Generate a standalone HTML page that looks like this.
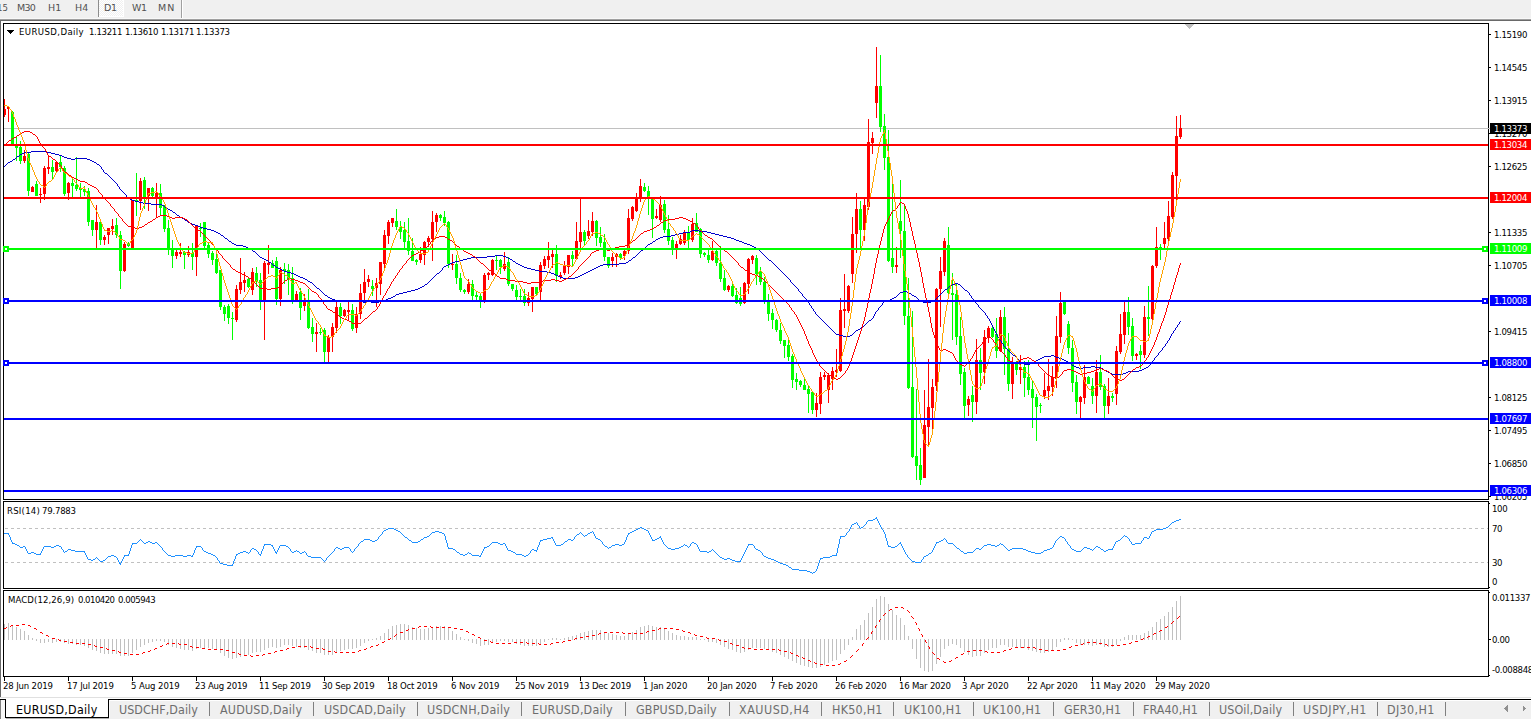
<!DOCTYPE html><html><head><meta charset="utf-8"><title>EURUSD,Daily</title><style>
html,body{margin:0;padding:0;}
body{width:1531px;height:719px;background:#fff;position:relative;overflow:hidden;font-family:"DejaVu Sans Condensed", "Liberation Sans", sans-serif;}
.t{position:absolute;white-space:nowrap;line-height:1;color:#000;}
#tb{position:absolute;left:0;top:0;width:1531px;height:19px;background:#f0f0f0;}
#tbl{position:absolute;left:0;top:19px;width:1531px;height:1px;background:#a0a0a0;}
#tbl2{position:absolute;left:0;top:20px;width:1531px;height:1px;background:#696969;}
.tbt{position:absolute;top:3px;font-family:"DejaVu Sans","Liberation Sans",sans-serif;font-size:9.5px;color:#505050;white-space:nowrap;line-height:1;}
.tab{position:absolute;top:704px;font-size:12.4px;color:#6d6d6d;white-space:nowrap;line-height:1;}
</style></head><body>
<div id="tb"></div><div id="tbl"></div><div id="tbl2"></div>
<div style="position:absolute;left:99px;top:0;width:24px;height:16px;background:repeating-conic-gradient(#ffffff 0% 25%, #f0f0f0 0% 50%) 0 0/2px 2px;"></div>
<div style="position:absolute;left:98px;top:0;width:1px;height:17px;background:#8c8c8c;"></div>
<div style="position:absolute;left:99px;top:16px;width:25px;height:1px;background:#fff;"></div>
<div style="position:absolute;left:123px;top:0;width:1px;height:17px;background:#fff;"></div>
<div style="position:absolute;left:181px;top:0;width:1px;height:19px;background:#a0a0a0;"></div>
<div style="position:absolute;left:182px;top:0;width:1px;height:19px;background:#fff;"></div>
<div class="tbt" style="left:-3px;font-family:'DejaVu Sans Condensed','Liberation Sans',sans-serif">15</div>
<div class="tbt" style="left:17.0px;letter-spacing:-0.69px">M30</div>
<div class="tbt" style="left:48.0px;letter-spacing:0.22px">H1</div>
<div class="tbt" style="left:75.0px;letter-spacing:0.08px">H4</div>
<div class="tbt" style="left:104.0px;letter-spacing:-0.34px">D1</div>
<div class="tbt" style="left:132.0px;letter-spacing:-0.48px">W1</div>
<div class="tbt" style="left:158.0px;letter-spacing:1.06px">MN</div>
<div style="position:absolute;left:0;top:20px;width:1px;height:677px;background:#696969;"></div>
<div style="position:absolute;left:0;top:18px;width:1531px;height:1px;background:#f8f8f8;"></div>
<svg width="1531" height="719" viewBox="0 0 1531 719" style="position:absolute;left:0;top:0" shape-rendering="crispEdges">
<rect x="3.5" y="23.5" width="1485" height="476" fill="none" stroke="#000" stroke-width="1"/>
<rect x="3.5" y="501.5" width="1485" height="87" fill="none" stroke="#000" stroke-width="1"/>
<rect x="3.5" y="590.5" width="1485" height="86" fill="none" stroke="#000" stroke-width="1"/>
<line x1="5" y1="528.5" x2="1488" y2="528.5" stroke="#c0c0c0" stroke-width="1" stroke-dasharray="3,3"/>
<line x1="5" y1="562.5" x2="1488" y2="562.5" stroke="#c0c0c0" stroke-width="1" stroke-dasharray="3,3"/>
<rect x="4" y="677" width="1" height="4" fill="#000"/>
<rect x="68" y="677" width="1" height="4" fill="#000"/>
<rect x="132" y="677" width="1" height="4" fill="#000"/>
<rect x="196" y="677" width="1" height="4" fill="#000"/>
<rect x="260" y="677" width="1" height="4" fill="#000"/>
<rect x="324" y="677" width="1" height="4" fill="#000"/>
<rect x="388" y="677" width="1" height="4" fill="#000"/>
<rect x="452" y="677" width="1" height="4" fill="#000"/>
<rect x="516" y="677" width="1" height="4" fill="#000"/>
<rect x="580" y="677" width="1" height="4" fill="#000"/>
<rect x="644" y="677" width="1" height="4" fill="#000"/>
<rect x="708" y="677" width="1" height="4" fill="#000"/>
<rect x="772" y="677" width="1" height="4" fill="#000"/>
<rect x="836" y="677" width="1" height="4" fill="#000"/>
<rect x="900" y="677" width="1" height="4" fill="#000"/>
<rect x="964" y="677" width="1" height="4" fill="#000"/>
<rect x="1028" y="677" width="1" height="4" fill="#000"/>
<rect x="1092" y="677" width="1" height="4" fill="#000"/>
<rect x="1156" y="677" width="1" height="4" fill="#000"/>
<rect x="1489" y="34" width="2" height="1" fill="#000"/>
<rect x="1489" y="67" width="2" height="1" fill="#000"/>
<rect x="1489" y="100" width="2" height="1" fill="#000"/>
<rect x="1489" y="133" width="2" height="1" fill="#000"/>
<rect x="1489" y="166" width="2" height="1" fill="#000"/>
<rect x="1489" y="232" width="2" height="1" fill="#000"/>
<rect x="1489" y="265" width="2" height="1" fill="#000"/>
<rect x="1489" y="331" width="2" height="1" fill="#000"/>
<rect x="1489" y="397" width="2" height="1" fill="#000"/>
<rect x="1489" y="430" width="2" height="1" fill="#000"/>
<rect x="1489" y="463" width="2" height="1" fill="#000"/>
<rect x="1489" y="496" width="2" height="1" fill="#000"/>
<rect x="1489" y="503" width="1" height="1" fill="#000"/>
<rect x="1489" y="587" width="1" height="1" fill="#000"/>
<rect x="1489" y="592" width="1" height="1" fill="#000"/>
<rect x="1489" y="675" width="1" height="1" fill="#000"/>
<rect x="1489" y="639" width="2" height="1" fill="#000"/>
<rect x="4" y="128" width="1486" height="1" fill="#c0c0c0"/>
<rect x="4" y="99" width="1" height="18" fill="#ff0000"/>
<rect x="4" y="109" width="2" height="6" fill="#ff0000"/>
<rect x="8" y="106" width="1" height="16" fill="#ff0000"/>
<rect x="7" y="107" width="3" height="2" fill="#ff0000"/>
<rect x="12" y="111" width="1" height="33" fill="#00ff00"/>
<rect x="11" y="112" width="3" height="32" fill="#00ff00"/>
<rect x="16" y="137" width="1" height="24" fill="#00ff00"/>
<rect x="15" y="146" width="3" height="2" fill="#00ff00"/>
<rect x="20" y="141" width="1" height="23" fill="#00ff00"/>
<rect x="19" y="147" width="3" height="14" fill="#00ff00"/>
<rect x="24" y="150" width="1" height="13" fill="#ff0000"/>
<rect x="23" y="156" width="3" height="5" fill="#ff0000"/>
<rect x="28" y="153" width="1" height="43" fill="#00ff00"/>
<rect x="27" y="154" width="3" height="37" fill="#00ff00"/>
<rect x="32" y="186" width="1" height="6" fill="#ff0000"/>
<rect x="31" y="187" width="3" height="5" fill="#ff0000"/>
<rect x="36" y="181" width="1" height="15" fill="#00ff00"/>
<rect x="35" y="184" width="3" height="12" fill="#00ff00"/>
<rect x="40" y="188" width="1" height="15" fill="#ff0000"/>
<rect x="39" y="194" width="3" height="1" fill="#ff0000"/>
<rect x="44" y="166" width="1" height="34" fill="#ff0000"/>
<rect x="43" y="168" width="3" height="26" fill="#ff0000"/>
<rect x="48" y="155" width="1" height="19" fill="#ff0000"/>
<rect x="47" y="167" width="3" height="2" fill="#ff0000"/>
<rect x="52" y="160" width="1" height="19" fill="#00ff00"/>
<rect x="51" y="167" width="3" height="5" fill="#00ff00"/>
<rect x="56" y="161" width="1" height="11" fill="#ff0000"/>
<rect x="55" y="162" width="3" height="9" fill="#ff0000"/>
<rect x="60" y="156" width="1" height="16" fill="#00ff00"/>
<rect x="59" y="162" width="3" height="5" fill="#00ff00"/>
<rect x="64" y="166" width="1" height="30" fill="#00ff00"/>
<rect x="63" y="168" width="3" height="26" fill="#00ff00"/>
<rect x="68" y="182" width="1" height="18" fill="#ff0000"/>
<rect x="67" y="183" width="3" height="10" fill="#ff0000"/>
<rect x="72" y="178" width="1" height="19" fill="#00ff00"/>
<rect x="71" y="183" width="3" height="3" fill="#00ff00"/>
<rect x="76" y="157" width="1" height="34" fill="#00ff00"/>
<rect x="75" y="185" width="3" height="4" fill="#00ff00"/>
<rect x="80" y="183" width="1" height="14" fill="#00ff00"/>
<rect x="79" y="188" width="3" height="2" fill="#00ff00"/>
<rect x="84" y="186" width="1" height="10" fill="#00ff00"/>
<rect x="83" y="189" width="3" height="3" fill="#00ff00"/>
<rect x="88" y="188" width="1" height="38" fill="#00ff00"/>
<rect x="87" y="191" width="3" height="31" fill="#00ff00"/>
<rect x="92" y="220" width="1" height="16" fill="#00ff00"/>
<rect x="91" y="220" width="3" height="10" fill="#00ff00"/>
<rect x="96" y="205" width="1" height="43" fill="#ff0000"/>
<rect x="95" y="222" width="3" height="8" fill="#ff0000"/>
<rect x="100" y="222" width="1" height="23" fill="#00ff00"/>
<rect x="99" y="222" width="3" height="18" fill="#00ff00"/>
<rect x="104" y="235" width="1" height="10" fill="#ff0000"/>
<rect x="103" y="237" width="3" height="3" fill="#ff0000"/>
<rect x="108" y="228" width="1" height="16" fill="#ff0000"/>
<rect x="107" y="228" width="3" height="7" fill="#ff0000"/>
<rect x="112" y="219" width="1" height="16" fill="#ff0000"/>
<rect x="111" y="226" width="3" height="3" fill="#ff0000"/>
<rect x="116" y="218" width="1" height="20" fill="#00ff00"/>
<rect x="115" y="225" width="3" height="10" fill="#00ff00"/>
<rect x="120" y="231" width="1" height="58" fill="#00ff00"/>
<rect x="119" y="235" width="3" height="36" fill="#00ff00"/>
<rect x="124" y="242" width="1" height="30" fill="#ff0000"/>
<rect x="123" y="244" width="3" height="27" fill="#ff0000"/>
<rect x="128" y="242" width="1" height="5" fill="#00ff00"/>
<rect x="127" y="244" width="3" height="2" fill="#00ff00"/>
<rect x="132" y="200" width="1" height="48" fill="#ff0000"/>
<rect x="131" y="200" width="3" height="48" fill="#ff0000"/>
<rect x="136" y="173" width="1" height="43" fill="#00ff00"/>
<rect x="135" y="200" width="3" height="1" fill="#00ff00"/>
<rect x="140" y="178" width="1" height="32" fill="#ff0000"/>
<rect x="139" y="181" width="3" height="20" fill="#ff0000"/>
<rect x="144" y="177" width="1" height="32" fill="#00ff00"/>
<rect x="143" y="180" width="3" height="17" fill="#00ff00"/>
<rect x="148" y="188" width="1" height="23" fill="#ff0000"/>
<rect x="147" y="188" width="3" height="8" fill="#ff0000"/>
<rect x="152" y="187" width="1" height="10" fill="#00ff00"/>
<rect x="151" y="188" width="3" height="8" fill="#00ff00"/>
<rect x="156" y="183" width="1" height="35" fill="#ff0000"/>
<rect x="155" y="193" width="3" height="5" fill="#ff0000"/>
<rect x="160" y="184" width="1" height="31" fill="#00ff00"/>
<rect x="159" y="193" width="3" height="15" fill="#00ff00"/>
<rect x="164" y="205" width="1" height="27" fill="#00ff00"/>
<rect x="163" y="206" width="3" height="23" fill="#00ff00"/>
<rect x="168" y="220" width="1" height="35" fill="#00ff00"/>
<rect x="167" y="228" width="3" height="20" fill="#00ff00"/>
<rect x="172" y="240" width="1" height="28" fill="#00ff00"/>
<rect x="171" y="250" width="3" height="6" fill="#00ff00"/>
<rect x="176" y="250" width="1" height="9" fill="#ff0000"/>
<rect x="175" y="252" width="3" height="4" fill="#ff0000"/>
<rect x="180" y="243" width="1" height="14" fill="#ff0000"/>
<rect x="179" y="252" width="3" height="2" fill="#ff0000"/>
<rect x="184" y="251" width="1" height="18" fill="#00ff00"/>
<rect x="183" y="252" width="3" height="3" fill="#00ff00"/>
<rect x="188" y="246" width="1" height="11" fill="#ff0000"/>
<rect x="187" y="252" width="3" height="3" fill="#ff0000"/>
<rect x="192" y="243" width="1" height="27" fill="#00ff00"/>
<rect x="191" y="253" width="3" height="4" fill="#00ff00"/>
<rect x="196" y="225" width="1" height="51" fill="#ff0000"/>
<rect x="195" y="226" width="3" height="31" fill="#ff0000"/>
<rect x="200" y="223" width="1" height="14" fill="#00ff00"/>
<rect x="199" y="228" width="3" height="1" fill="#00ff00"/>
<rect x="204" y="222" width="1" height="26" fill="#00ff00"/>
<rect x="203" y="222" width="3" height="24" fill="#00ff00"/>
<rect x="208" y="242" width="1" height="16" fill="#00ff00"/>
<rect x="207" y="245" width="3" height="9" fill="#00ff00"/>
<rect x="212" y="251" width="1" height="14" fill="#00ff00"/>
<rect x="211" y="253" width="3" height="7" fill="#00ff00"/>
<rect x="216" y="254" width="1" height="20" fill="#00ff00"/>
<rect x="215" y="259" width="3" height="14" fill="#00ff00"/>
<rect x="220" y="270" width="1" height="40" fill="#00ff00"/>
<rect x="219" y="270" width="3" height="37" fill="#00ff00"/>
<rect x="224" y="305" width="1" height="16" fill="#00ff00"/>
<rect x="223" y="307" width="3" height="7" fill="#00ff00"/>
<rect x="228" y="304" width="1" height="20" fill="#00ff00"/>
<rect x="227" y="306" width="3" height="12" fill="#00ff00"/>
<rect x="232" y="312" width="1" height="28" fill="#00ff00"/>
<rect x="231" y="318" width="3" height="1" fill="#00ff00"/>
<rect x="236" y="285" width="1" height="37" fill="#ff0000"/>
<rect x="235" y="289" width="3" height="31" fill="#ff0000"/>
<rect x="240" y="258" width="1" height="36" fill="#ff0000"/>
<rect x="239" y="282" width="3" height="8" fill="#ff0000"/>
<rect x="244" y="272" width="1" height="20" fill="#ff0000"/>
<rect x="243" y="280" width="3" height="3" fill="#ff0000"/>
<rect x="248" y="278" width="1" height="10" fill="#00ff00"/>
<rect x="247" y="279" width="3" height="8" fill="#00ff00"/>
<rect x="252" y="268" width="1" height="27" fill="#ff0000"/>
<rect x="251" y="272" width="3" height="18" fill="#ff0000"/>
<rect x="256" y="267" width="1" height="20" fill="#00ff00"/>
<rect x="255" y="273" width="3" height="9" fill="#00ff00"/>
<rect x="260" y="273" width="1" height="37" fill="#00ff00"/>
<rect x="259" y="280" width="3" height="20" fill="#00ff00"/>
<rect x="264" y="261" width="1" height="79" fill="#ff0000"/>
<rect x="263" y="263" width="3" height="37" fill="#ff0000"/>
<rect x="268" y="245" width="1" height="29" fill="#ff0000"/>
<rect x="267" y="263" width="3" height="2" fill="#ff0000"/>
<rect x="272" y="260" width="1" height="8" fill="#00ff00"/>
<rect x="271" y="263" width="3" height="5" fill="#00ff00"/>
<rect x="276" y="257" width="1" height="48" fill="#00ff00"/>
<rect x="275" y="261" width="3" height="38" fill="#00ff00"/>
<rect x="280" y="267" width="1" height="39" fill="#ff0000"/>
<rect x="279" y="270" width="3" height="29" fill="#ff0000"/>
<rect x="284" y="263" width="1" height="21" fill="#00ff00"/>
<rect x="283" y="269" width="3" height="2" fill="#00ff00"/>
<rect x="288" y="264" width="1" height="31" fill="#00ff00"/>
<rect x="287" y="270" width="3" height="9" fill="#00ff00"/>
<rect x="292" y="267" width="1" height="37" fill="#00ff00"/>
<rect x="291" y="278" width="3" height="22" fill="#00ff00"/>
<rect x="296" y="291" width="1" height="10" fill="#ff0000"/>
<rect x="295" y="294" width="3" height="6" fill="#ff0000"/>
<rect x="300" y="288" width="1" height="32" fill="#00ff00"/>
<rect x="299" y="292" width="3" height="16" fill="#00ff00"/>
<rect x="304" y="294" width="1" height="17" fill="#ff0000"/>
<rect x="303" y="300" width="3" height="6" fill="#ff0000"/>
<rect x="308" y="289" width="1" height="40" fill="#00ff00"/>
<rect x="307" y="302" width="3" height="26" fill="#00ff00"/>
<rect x="312" y="318" width="1" height="24" fill="#00ff00"/>
<rect x="311" y="327" width="3" height="7" fill="#00ff00"/>
<rect x="316" y="323" width="1" height="29" fill="#ff0000"/>
<rect x="315" y="332" width="3" height="2" fill="#ff0000"/>
<rect x="320" y="328" width="1" height="7" fill="#00ff00"/>
<rect x="319" y="332" width="3" height="1" fill="#00ff00"/>
<rect x="324" y="328" width="1" height="34" fill="#00ff00"/>
<rect x="323" y="330" width="3" height="22" fill="#00ff00"/>
<rect x="328" y="335" width="1" height="29" fill="#ff0000"/>
<rect x="327" y="337" width="3" height="15" fill="#ff0000"/>
<rect x="332" y="323" width="1" height="29" fill="#ff0000"/>
<rect x="331" y="327" width="3" height="10" fill="#ff0000"/>
<rect x="336" y="302" width="1" height="31" fill="#ff0000"/>
<rect x="335" y="307" width="3" height="21" fill="#ff0000"/>
<rect x="340" y="303" width="1" height="21" fill="#00ff00"/>
<rect x="339" y="307" width="3" height="9" fill="#00ff00"/>
<rect x="344" y="309" width="1" height="8" fill="#ff0000"/>
<rect x="343" y="310" width="3" height="6" fill="#ff0000"/>
<rect x="348" y="302" width="1" height="19" fill="#ff0000"/>
<rect x="347" y="310" width="3" height="2" fill="#ff0000"/>
<rect x="352" y="304" width="1" height="27" fill="#00ff00"/>
<rect x="351" y="310" width="3" height="19" fill="#00ff00"/>
<rect x="356" y="307" width="1" height="26" fill="#ff0000"/>
<rect x="355" y="314" width="3" height="14" fill="#ff0000"/>
<rect x="360" y="284" width="1" height="35" fill="#ff0000"/>
<rect x="359" y="293" width="3" height="21" fill="#ff0000"/>
<rect x="364" y="269" width="1" height="32" fill="#ff0000"/>
<rect x="363" y="282" width="3" height="11" fill="#ff0000"/>
<rect x="368" y="275" width="1" height="12" fill="#ff0000"/>
<rect x="367" y="279" width="3" height="3" fill="#ff0000"/>
<rect x="372" y="280" width="1" height="16" fill="#00ff00"/>
<rect x="371" y="286" width="3" height="3" fill="#00ff00"/>
<rect x="376" y="278" width="1" height="29" fill="#ff0000"/>
<rect x="375" y="283" width="3" height="5" fill="#ff0000"/>
<rect x="380" y="262" width="1" height="33" fill="#ff0000"/>
<rect x="379" y="262" width="3" height="22" fill="#ff0000"/>
<rect x="384" y="230" width="1" height="39" fill="#ff0000"/>
<rect x="383" y="235" width="3" height="29" fill="#ff0000"/>
<rect x="388" y="220" width="1" height="24" fill="#ff0000"/>
<rect x="387" y="222" width="3" height="14" fill="#ff0000"/>
<rect x="392" y="218" width="1" height="9" fill="#ff0000"/>
<rect x="391" y="218" width="3" height="5" fill="#ff0000"/>
<rect x="396" y="209" width="1" height="21" fill="#00ff00"/>
<rect x="395" y="221" width="3" height="6" fill="#00ff00"/>
<rect x="400" y="221" width="1" height="18" fill="#00ff00"/>
<rect x="399" y="227" width="3" height="5" fill="#00ff00"/>
<rect x="404" y="222" width="1" height="26" fill="#00ff00"/>
<rect x="403" y="230" width="3" height="12" fill="#00ff00"/>
<rect x="408" y="218" width="1" height="37" fill="#00ff00"/>
<rect x="407" y="241" width="3" height="10" fill="#00ff00"/>
<rect x="412" y="238" width="1" height="23" fill="#00ff00"/>
<rect x="411" y="251" width="3" height="10" fill="#00ff00"/>
<rect x="416" y="259" width="1" height="6" fill="#00ff00"/>
<rect x="415" y="260" width="3" height="2" fill="#00ff00"/>
<rect x="420" y="247" width="1" height="16" fill="#ff0000"/>
<rect x="419" y="254" width="3" height="6" fill="#ff0000"/>
<rect x="424" y="241" width="1" height="24" fill="#ff0000"/>
<rect x="423" y="242" width="3" height="13" fill="#ff0000"/>
<rect x="428" y="236" width="1" height="11" fill="#ff0000"/>
<rect x="427" y="238" width="3" height="4" fill="#ff0000"/>
<rect x="432" y="211" width="1" height="50" fill="#ff0000"/>
<rect x="431" y="222" width="3" height="17" fill="#ff0000"/>
<rect x="436" y="213" width="1" height="19" fill="#ff0000"/>
<rect x="435" y="215" width="3" height="7" fill="#ff0000"/>
<rect x="440" y="214" width="1" height="7" fill="#00ff00"/>
<rect x="439" y="215" width="3" height="3" fill="#00ff00"/>
<rect x="444" y="211" width="1" height="15" fill="#00ff00"/>
<rect x="443" y="217" width="3" height="6" fill="#00ff00"/>
<rect x="448" y="221" width="1" height="47" fill="#00ff00"/>
<rect x="447" y="222" width="3" height="42" fill="#00ff00"/>
<rect x="452" y="254" width="1" height="16" fill="#ff0000"/>
<rect x="451" y="264" width="3" height="1" fill="#ff0000"/>
<rect x="456" y="255" width="1" height="29" fill="#00ff00"/>
<rect x="455" y="264" width="3" height="14" fill="#00ff00"/>
<rect x="460" y="273" width="1" height="19" fill="#00ff00"/>
<rect x="459" y="278" width="3" height="12" fill="#00ff00"/>
<rect x="464" y="289" width="1" height="5" fill="#00ff00"/>
<rect x="463" y="290" width="3" height="2" fill="#00ff00"/>
<rect x="468" y="279" width="1" height="15" fill="#ff0000"/>
<rect x="467" y="284" width="3" height="8" fill="#ff0000"/>
<rect x="472" y="280" width="1" height="20" fill="#00ff00"/>
<rect x="471" y="284" width="3" height="12" fill="#00ff00"/>
<rect x="476" y="292" width="1" height="10" fill="#00ff00"/>
<rect x="475" y="295" width="3" height="2" fill="#00ff00"/>
<rect x="480" y="294" width="1" height="14" fill="#00ff00"/>
<rect x="479" y="296" width="3" height="5" fill="#00ff00"/>
<rect x="484" y="273" width="1" height="30" fill="#ff0000"/>
<rect x="483" y="275" width="3" height="25" fill="#ff0000"/>
<rect x="488" y="272" width="1" height="8" fill="#ff0000"/>
<rect x="487" y="273" width="3" height="2" fill="#ff0000"/>
<rect x="492" y="259" width="1" height="17" fill="#ff0000"/>
<rect x="491" y="260" width="3" height="15" fill="#ff0000"/>
<rect x="496" y="256" width="1" height="14" fill="#00ff00"/>
<rect x="495" y="260" width="3" height="1" fill="#00ff00"/>
<rect x="500" y="259" width="1" height="15" fill="#00ff00"/>
<rect x="499" y="260" width="3" height="7" fill="#00ff00"/>
<rect x="504" y="252" width="1" height="19" fill="#ff0000"/>
<rect x="503" y="264" width="3" height="5" fill="#ff0000"/>
<rect x="508" y="257" width="1" height="29" fill="#00ff00"/>
<rect x="507" y="262" width="3" height="22" fill="#00ff00"/>
<rect x="512" y="284" width="1" height="7" fill="#00ff00"/>
<rect x="511" y="284" width="3" height="5" fill="#00ff00"/>
<rect x="516" y="285" width="1" height="15" fill="#00ff00"/>
<rect x="515" y="290" width="3" height="7" fill="#00ff00"/>
<rect x="520" y="289" width="1" height="11" fill="#00ff00"/>
<rect x="519" y="296" width="3" height="1" fill="#00ff00"/>
<rect x="524" y="289" width="1" height="17" fill="#00ff00"/>
<rect x="523" y="296" width="3" height="7" fill="#00ff00"/>
<rect x="528" y="292" width="1" height="14" fill="#ff0000"/>
<rect x="527" y="298" width="3" height="5" fill="#ff0000"/>
<rect x="532" y="287" width="1" height="25" fill="#ff0000"/>
<rect x="531" y="287" width="3" height="12" fill="#ff0000"/>
<rect x="536" y="287" width="1" height="8" fill="#00ff00"/>
<rect x="535" y="287" width="3" height="7" fill="#00ff00"/>
<rect x="540" y="262" width="1" height="38" fill="#ff0000"/>
<rect x="539" y="265" width="3" height="27" fill="#ff0000"/>
<rect x="544" y="256" width="1" height="13" fill="#ff0000"/>
<rect x="543" y="259" width="3" height="7" fill="#ff0000"/>
<rect x="548" y="242" width="1" height="26" fill="#ff0000"/>
<rect x="547" y="256" width="3" height="4" fill="#ff0000"/>
<rect x="552" y="250" width="1" height="18" fill="#ff0000"/>
<rect x="551" y="254" width="3" height="3" fill="#ff0000"/>
<rect x="556" y="245" width="1" height="37" fill="#00ff00"/>
<rect x="555" y="254" width="3" height="22" fill="#00ff00"/>
<rect x="560" y="272" width="1" height="7" fill="#ff0000"/>
<rect x="559" y="275" width="3" height="2" fill="#ff0000"/>
<rect x="564" y="261" width="1" height="14" fill="#ff0000"/>
<rect x="563" y="266" width="3" height="7" fill="#ff0000"/>
<rect x="568" y="255" width="1" height="19" fill="#ff0000"/>
<rect x="567" y="255" width="3" height="12" fill="#ff0000"/>
<rect x="572" y="251" width="1" height="15" fill="#00ff00"/>
<rect x="571" y="255" width="3" height="4" fill="#00ff00"/>
<rect x="576" y="222" width="1" height="38" fill="#ff0000"/>
<rect x="575" y="241" width="3" height="18" fill="#ff0000"/>
<rect x="580" y="199" width="1" height="49" fill="#ff0000"/>
<rect x="579" y="232" width="3" height="10" fill="#ff0000"/>
<rect x="584" y="230" width="1" height="15" fill="#00ff00"/>
<rect x="583" y="232" width="3" height="9" fill="#00ff00"/>
<rect x="588" y="220" width="1" height="19" fill="#ff0000"/>
<rect x="587" y="231" width="3" height="5" fill="#ff0000"/>
<rect x="592" y="212" width="1" height="24" fill="#ff0000"/>
<rect x="591" y="221" width="3" height="11" fill="#ff0000"/>
<rect x="596" y="220" width="1" height="26" fill="#00ff00"/>
<rect x="595" y="221" width="3" height="17" fill="#00ff00"/>
<rect x="600" y="227" width="1" height="20" fill="#00ff00"/>
<rect x="599" y="237" width="3" height="6" fill="#00ff00"/>
<rect x="604" y="234" width="1" height="27" fill="#00ff00"/>
<rect x="603" y="242" width="3" height="15" fill="#00ff00"/>
<rect x="608" y="257" width="1" height="11" fill="#00ff00"/>
<rect x="607" y="257" width="3" height="9" fill="#00ff00"/>
<rect x="612" y="253" width="1" height="14" fill="#ff0000"/>
<rect x="611" y="257" width="3" height="4" fill="#ff0000"/>
<rect x="616" y="253" width="1" height="14" fill="#ff0000"/>
<rect x="615" y="254" width="3" height="3" fill="#ff0000"/>
<rect x="620" y="253" width="1" height="7" fill="#00ff00"/>
<rect x="619" y="254" width="3" height="4" fill="#00ff00"/>
<rect x="624" y="250" width="1" height="10" fill="#ff0000"/>
<rect x="623" y="251" width="3" height="5" fill="#ff0000"/>
<rect x="628" y="209" width="1" height="45" fill="#ff0000"/>
<rect x="627" y="218" width="3" height="33" fill="#ff0000"/>
<rect x="632" y="206" width="1" height="15" fill="#ff0000"/>
<rect x="631" y="207" width="3" height="12" fill="#ff0000"/>
<rect x="636" y="193" width="1" height="19" fill="#ff0000"/>
<rect x="635" y="199" width="3" height="12" fill="#ff0000"/>
<rect x="640" y="179" width="1" height="23" fill="#ff0000"/>
<rect x="639" y="186" width="3" height="12" fill="#ff0000"/>
<rect x="644" y="183" width="1" height="9" fill="#00ff00"/>
<rect x="643" y="187" width="3" height="4" fill="#00ff00"/>
<rect x="648" y="186" width="1" height="29" fill="#00ff00"/>
<rect x="647" y="191" width="3" height="6" fill="#00ff00"/>
<rect x="652" y="198" width="1" height="40" fill="#00ff00"/>
<rect x="651" y="199" width="3" height="20" fill="#00ff00"/>
<rect x="656" y="209" width="1" height="10" fill="#ff0000"/>
<rect x="655" y="216" width="3" height="2" fill="#ff0000"/>
<rect x="660" y="196" width="1" height="26" fill="#ff0000"/>
<rect x="659" y="205" width="3" height="15" fill="#ff0000"/>
<rect x="664" y="200" width="1" height="33" fill="#00ff00"/>
<rect x="663" y="204" width="3" height="26" fill="#00ff00"/>
<rect x="668" y="215" width="1" height="30" fill="#00ff00"/>
<rect x="667" y="229" width="3" height="12" fill="#00ff00"/>
<rect x="672" y="237" width="1" height="18" fill="#00ff00"/>
<rect x="671" y="240" width="3" height="8" fill="#00ff00"/>
<rect x="676" y="241" width="1" height="18" fill="#ff0000"/>
<rect x="675" y="244" width="3" height="4" fill="#ff0000"/>
<rect x="680" y="235" width="1" height="10" fill="#ff0000"/>
<rect x="679" y="239" width="3" height="5" fill="#ff0000"/>
<rect x="684" y="230" width="1" height="15" fill="#ff0000"/>
<rect x="683" y="232" width="3" height="11" fill="#ff0000"/>
<rect x="688" y="226" width="1" height="22" fill="#00ff00"/>
<rect x="687" y="232" width="3" height="8" fill="#00ff00"/>
<rect x="692" y="218" width="1" height="24" fill="#ff0000"/>
<rect x="691" y="224" width="3" height="16" fill="#ff0000"/>
<rect x="696" y="213" width="1" height="19" fill="#00ff00"/>
<rect x="695" y="223" width="3" height="9" fill="#00ff00"/>
<rect x="700" y="228" width="1" height="30" fill="#00ff00"/>
<rect x="699" y="229" width="3" height="25" fill="#00ff00"/>
<rect x="704" y="252" width="1" height="5" fill="#00ff00"/>
<rect x="703" y="253" width="3" height="2" fill="#00ff00"/>
<rect x="708" y="249" width="1" height="14" fill="#00ff00"/>
<rect x="707" y="255" width="3" height="5" fill="#00ff00"/>
<rect x="712" y="241" width="1" height="20" fill="#ff0000"/>
<rect x="711" y="251" width="3" height="9" fill="#ff0000"/>
<rect x="716" y="250" width="1" height="16" fill="#00ff00"/>
<rect x="715" y="251" width="3" height="12" fill="#00ff00"/>
<rect x="720" y="246" width="1" height="36" fill="#00ff00"/>
<rect x="719" y="263" width="3" height="16" fill="#00ff00"/>
<rect x="724" y="270" width="1" height="21" fill="#00ff00"/>
<rect x="723" y="278" width="3" height="12" fill="#00ff00"/>
<rect x="728" y="285" width="1" height="7" fill="#ff0000"/>
<rect x="727" y="286" width="3" height="4" fill="#ff0000"/>
<rect x="732" y="284" width="1" height="13" fill="#00ff00"/>
<rect x="731" y="286" width="3" height="10" fill="#00ff00"/>
<rect x="736" y="288" width="1" height="16" fill="#00ff00"/>
<rect x="735" y="295" width="3" height="8" fill="#00ff00"/>
<rect x="740" y="287" width="1" height="19" fill="#00ff00"/>
<rect x="739" y="298" width="3" height="6" fill="#00ff00"/>
<rect x="744" y="282" width="1" height="22" fill="#ff0000"/>
<rect x="743" y="283" width="3" height="20" fill="#ff0000"/>
<rect x="748" y="258" width="1" height="36" fill="#ff0000"/>
<rect x="747" y="259" width="3" height="25" fill="#ff0000"/>
<rect x="752" y="255" width="1" height="9" fill="#ff0000"/>
<rect x="751" y="256" width="3" height="4" fill="#ff0000"/>
<rect x="756" y="255" width="1" height="30" fill="#00ff00"/>
<rect x="755" y="258" width="3" height="16" fill="#00ff00"/>
<rect x="760" y="267" width="1" height="18" fill="#00ff00"/>
<rect x="759" y="272" width="3" height="10" fill="#00ff00"/>
<rect x="764" y="277" width="1" height="27" fill="#00ff00"/>
<rect x="763" y="282" width="3" height="20" fill="#00ff00"/>
<rect x="768" y="294" width="1" height="27" fill="#00ff00"/>
<rect x="767" y="302" width="3" height="12" fill="#00ff00"/>
<rect x="772" y="309" width="1" height="20" fill="#00ff00"/>
<rect x="771" y="313" width="3" height="7" fill="#00ff00"/>
<rect x="776" y="319" width="1" height="13" fill="#00ff00"/>
<rect x="775" y="320" width="3" height="10" fill="#00ff00"/>
<rect x="780" y="323" width="1" height="21" fill="#00ff00"/>
<rect x="779" y="330" width="3" height="11" fill="#00ff00"/>
<rect x="784" y="340" width="1" height="18" fill="#00ff00"/>
<rect x="783" y="340" width="3" height="6" fill="#00ff00"/>
<rect x="788" y="340" width="1" height="21" fill="#00ff00"/>
<rect x="787" y="345" width="3" height="12" fill="#00ff00"/>
<rect x="792" y="354" width="1" height="34" fill="#00ff00"/>
<rect x="791" y="356" width="3" height="24" fill="#00ff00"/>
<rect x="796" y="373" width="1" height="17" fill="#00ff00"/>
<rect x="795" y="379" width="3" height="3" fill="#00ff00"/>
<rect x="800" y="380" width="1" height="7" fill="#00ff00"/>
<rect x="799" y="381" width="3" height="4" fill="#00ff00"/>
<rect x="804" y="379" width="1" height="11" fill="#00ff00"/>
<rect x="803" y="385" width="3" height="5" fill="#00ff00"/>
<rect x="808" y="385" width="1" height="28" fill="#00ff00"/>
<rect x="807" y="389" width="3" height="5" fill="#00ff00"/>
<rect x="812" y="392" width="1" height="22" fill="#00ff00"/>
<rect x="811" y="392" width="3" height="18" fill="#00ff00"/>
<rect x="816" y="393" width="1" height="24" fill="#ff0000"/>
<rect x="815" y="403" width="3" height="7" fill="#ff0000"/>
<rect x="820" y="372" width="1" height="42" fill="#ff0000"/>
<rect x="819" y="377" width="3" height="27" fill="#ff0000"/>
<rect x="824" y="372" width="1" height="8" fill="#ff0000"/>
<rect x="823" y="375" width="3" height="2" fill="#ff0000"/>
<rect x="828" y="373" width="1" height="30" fill="#ff0000"/>
<rect x="827" y="375" width="3" height="15" fill="#ff0000"/>
<rect x="832" y="367" width="1" height="23" fill="#ff0000"/>
<rect x="831" y="371" width="3" height="8" fill="#ff0000"/>
<rect x="836" y="349" width="1" height="28" fill="#ff0000"/>
<rect x="835" y="370" width="3" height="2" fill="#ff0000"/>
<rect x="840" y="298" width="1" height="74" fill="#ff0000"/>
<rect x="839" y="310" width="3" height="61" fill="#ff0000"/>
<rect x="844" y="274" width="1" height="54" fill="#ff0000"/>
<rect x="843" y="309" width="3" height="2" fill="#ff0000"/>
<rect x="848" y="285" width="1" height="28" fill="#ff0000"/>
<rect x="847" y="286" width="3" height="25" fill="#ff0000"/>
<rect x="852" y="217" width="1" height="66" fill="#ff0000"/>
<rect x="851" y="234" width="3" height="40" fill="#ff0000"/>
<rect x="856" y="193" width="1" height="60" fill="#ff0000"/>
<rect x="855" y="209" width="3" height="25" fill="#ff0000"/>
<rect x="860" y="201" width="1" height="47" fill="#00ff00"/>
<rect x="859" y="209" width="3" height="21" fill="#00ff00"/>
<rect x="864" y="198" width="1" height="43" fill="#ff0000"/>
<rect x="863" y="205" width="3" height="25" fill="#ff0000"/>
<rect x="868" y="119" width="1" height="91" fill="#ff0000"/>
<rect x="867" y="142" width="3" height="65" fill="#ff0000"/>
<rect x="872" y="132" width="1" height="22" fill="#ff0000"/>
<rect x="871" y="138" width="3" height="5" fill="#ff0000"/>
<rect x="876" y="47" width="1" height="71" fill="#ff0000"/>
<rect x="875" y="86" width="3" height="17" fill="#ff0000"/>
<rect x="880" y="55" width="1" height="77" fill="#00ff00"/>
<rect x="879" y="86" width="3" height="41" fill="#00ff00"/>
<rect x="884" y="114" width="1" height="56" fill="#00ff00"/>
<rect x="883" y="126" width="3" height="32" fill="#00ff00"/>
<rect x="888" y="130" width="1" height="132" fill="#00ff00"/>
<rect x="887" y="157" width="3" height="104" fill="#00ff00"/>
<rect x="892" y="184" width="1" height="89" fill="#00ff00"/>
<rect x="891" y="258" width="3" height="9" fill="#00ff00"/>
<rect x="896" y="247" width="1" height="26" fill="#ff0000"/>
<rect x="895" y="265" width="3" height="2" fill="#ff0000"/>
<rect x="900" y="180" width="1" height="78" fill="#00ff00"/>
<rect x="899" y="221" width="3" height="10" fill="#00ff00"/>
<rect x="904" y="204" width="1" height="121" fill="#00ff00"/>
<rect x="903" y="231" width="3" height="85" fill="#00ff00"/>
<rect x="908" y="278" width="1" height="111" fill="#00ff00"/>
<rect x="907" y="316" width="3" height="72" fill="#00ff00"/>
<rect x="912" y="311" width="1" height="147" fill="#00ff00"/>
<rect x="911" y="387" width="3" height="70" fill="#00ff00"/>
<rect x="916" y="389" width="1" height="91" fill="#00ff00"/>
<rect x="915" y="456" width="3" height="10" fill="#00ff00"/>
<rect x="920" y="448" width="1" height="37" fill="#00ff00"/>
<rect x="919" y="465" width="3" height="15" fill="#00ff00"/>
<rect x="924" y="390" width="1" height="88" fill="#ff0000"/>
<rect x="923" y="425" width="3" height="53" fill="#ff0000"/>
<rect x="928" y="359" width="1" height="88" fill="#ff0000"/>
<rect x="927" y="407" width="3" height="20" fill="#ff0000"/>
<rect x="932" y="379" width="1" height="50" fill="#ff0000"/>
<rect x="931" y="387" width="3" height="21" fill="#ff0000"/>
<rect x="936" y="288" width="1" height="103" fill="#ff0000"/>
<rect x="935" y="289" width="3" height="97" fill="#ff0000"/>
<rect x="940" y="257" width="1" height="70" fill="#ff0000"/>
<rect x="939" y="271" width="3" height="18" fill="#ff0000"/>
<rect x="944" y="238" width="1" height="38" fill="#ff0000"/>
<rect x="943" y="241" width="3" height="31" fill="#ff0000"/>
<rect x="948" y="227" width="1" height="67" fill="#00ff00"/>
<rect x="947" y="245" width="3" height="48" fill="#00ff00"/>
<rect x="952" y="273" width="1" height="67" fill="#00ff00"/>
<rect x="951" y="293" width="3" height="2" fill="#00ff00"/>
<rect x="956" y="283" width="1" height="62" fill="#00ff00"/>
<rect x="955" y="294" width="3" height="43" fill="#00ff00"/>
<rect x="960" y="317" width="1" height="68" fill="#00ff00"/>
<rect x="959" y="336" width="3" height="38" fill="#00ff00"/>
<rect x="964" y="368" width="1" height="50" fill="#00ff00"/>
<rect x="963" y="372" width="3" height="34" fill="#00ff00"/>
<rect x="968" y="396" width="1" height="20" fill="#ff0000"/>
<rect x="967" y="399" width="3" height="6" fill="#ff0000"/>
<rect x="972" y="386" width="1" height="36" fill="#00ff00"/>
<rect x="971" y="395" width="3" height="7" fill="#00ff00"/>
<rect x="976" y="339" width="1" height="75" fill="#ff0000"/>
<rect x="975" y="360" width="3" height="42" fill="#ff0000"/>
<rect x="980" y="348" width="1" height="42" fill="#00ff00"/>
<rect x="979" y="360" width="3" height="13" fill="#00ff00"/>
<rect x="984" y="330" width="1" height="54" fill="#ff0000"/>
<rect x="983" y="337" width="3" height="35" fill="#ff0000"/>
<rect x="988" y="326" width="1" height="17" fill="#ff0000"/>
<rect x="987" y="328" width="3" height="9" fill="#ff0000"/>
<rect x="992" y="325" width="1" height="13" fill="#00ff00"/>
<rect x="991" y="328" width="3" height="9" fill="#00ff00"/>
<rect x="996" y="318" width="1" height="40" fill="#00ff00"/>
<rect x="995" y="334" width="3" height="17" fill="#00ff00"/>
<rect x="1000" y="310" width="1" height="42" fill="#ff0000"/>
<rect x="999" y="317" width="3" height="34" fill="#ff0000"/>
<rect x="1004" y="307" width="1" height="68" fill="#00ff00"/>
<rect x="1003" y="317" width="3" height="32" fill="#00ff00"/>
<rect x="1008" y="333" width="1" height="58" fill="#00ff00"/>
<rect x="1007" y="349" width="3" height="35" fill="#00ff00"/>
<rect x="1012" y="357" width="1" height="42" fill="#ff0000"/>
<rect x="1011" y="364" width="3" height="20" fill="#ff0000"/>
<rect x="1016" y="361" width="1" height="14" fill="#00ff00"/>
<rect x="1015" y="363" width="3" height="7" fill="#00ff00"/>
<rect x="1020" y="355" width="1" height="29" fill="#ff0000"/>
<rect x="1019" y="367" width="3" height="3" fill="#ff0000"/>
<rect x="1024" y="361" width="1" height="36" fill="#00ff00"/>
<rect x="1023" y="367" width="3" height="11" fill="#00ff00"/>
<rect x="1028" y="360" width="1" height="35" fill="#00ff00"/>
<rect x="1027" y="377" width="3" height="13" fill="#00ff00"/>
<rect x="1032" y="381" width="1" height="47" fill="#00ff00"/>
<rect x="1031" y="389" width="3" height="9" fill="#00ff00"/>
<rect x="1036" y="394" width="1" height="47" fill="#00ff00"/>
<rect x="1035" y="397" width="3" height="10" fill="#00ff00"/>
<rect x="1040" y="403" width="1" height="10" fill="#00ff00"/>
<rect x="1039" y="405" width="3" height="1" fill="#00ff00"/>
<rect x="1044" y="373" width="1" height="26" fill="#ff0000"/>
<rect x="1043" y="390" width="3" height="6" fill="#ff0000"/>
<rect x="1048" y="359" width="1" height="41" fill="#ff0000"/>
<rect x="1047" y="386" width="3" height="5" fill="#ff0000"/>
<rect x="1052" y="366" width="1" height="30" fill="#ff0000"/>
<rect x="1051" y="377" width="3" height="10" fill="#ff0000"/>
<rect x="1056" y="316" width="1" height="72" fill="#ff0000"/>
<rect x="1055" y="336" width="3" height="42" fill="#ff0000"/>
<rect x="1060" y="292" width="1" height="51" fill="#ff0000"/>
<rect x="1059" y="303" width="3" height="34" fill="#ff0000"/>
<rect x="1064" y="301" width="1" height="14" fill="#00ff00"/>
<rect x="1063" y="302" width="3" height="12" fill="#00ff00"/>
<rect x="1068" y="321" width="1" height="33" fill="#00ff00"/>
<rect x="1067" y="324" width="3" height="24" fill="#00ff00"/>
<rect x="1072" y="340" width="1" height="52" fill="#00ff00"/>
<rect x="1071" y="348" width="3" height="35" fill="#00ff00"/>
<rect x="1076" y="375" width="1" height="39" fill="#00ff00"/>
<rect x="1075" y="382" width="3" height="20" fill="#00ff00"/>
<rect x="1080" y="396" width="1" height="24" fill="#ff0000"/>
<rect x="1079" y="397" width="3" height="5" fill="#ff0000"/>
<rect x="1084" y="365" width="1" height="39" fill="#ff0000"/>
<rect x="1083" y="377" width="3" height="21" fill="#ff0000"/>
<rect x="1088" y="376" width="1" height="8" fill="#00ff00"/>
<rect x="1087" y="377" width="3" height="7" fill="#00ff00"/>
<rect x="1092" y="378" width="1" height="26" fill="#00ff00"/>
<rect x="1091" y="386" width="3" height="10" fill="#00ff00"/>
<rect x="1096" y="360" width="1" height="53" fill="#ff0000"/>
<rect x="1095" y="372" width="3" height="24" fill="#ff0000"/>
<rect x="1100" y="355" width="1" height="35" fill="#00ff00"/>
<rect x="1099" y="372" width="3" height="15" fill="#00ff00"/>
<rect x="1104" y="384" width="1" height="34" fill="#00ff00"/>
<rect x="1103" y="386" width="3" height="20" fill="#00ff00"/>
<rect x="1108" y="378" width="1" height="36" fill="#ff0000"/>
<rect x="1107" y="396" width="3" height="10" fill="#ff0000"/>
<rect x="1112" y="393" width="1" height="9" fill="#00ff00"/>
<rect x="1111" y="396" width="3" height="2" fill="#00ff00"/>
<rect x="1116" y="346" width="1" height="59" fill="#ff0000"/>
<rect x="1115" y="351" width="3" height="43" fill="#ff0000"/>
<rect x="1120" y="314" width="1" height="40" fill="#ff0000"/>
<rect x="1119" y="334" width="3" height="18" fill="#ff0000"/>
<rect x="1124" y="301" width="1" height="43" fill="#ff0000"/>
<rect x="1123" y="312" width="3" height="23" fill="#ff0000"/>
<rect x="1128" y="297" width="1" height="38" fill="#00ff00"/>
<rect x="1127" y="312" width="3" height="15" fill="#00ff00"/>
<rect x="1132" y="318" width="1" height="43" fill="#00ff00"/>
<rect x="1131" y="326" width="3" height="30" fill="#00ff00"/>
<rect x="1136" y="353" width="1" height="7" fill="#ff0000"/>
<rect x="1135" y="354" width="3" height="2" fill="#ff0000"/>
<rect x="1140" y="345" width="1" height="24" fill="#00ff00"/>
<rect x="1139" y="351" width="3" height="4" fill="#00ff00"/>
<rect x="1144" y="306" width="1" height="52" fill="#ff0000"/>
<rect x="1143" y="317" width="3" height="38" fill="#ff0000"/>
<rect x="1148" y="286" width="1" height="50" fill="#00ff00"/>
<rect x="1147" y="317" width="3" height="2" fill="#00ff00"/>
<rect x="1152" y="265" width="1" height="55" fill="#ff0000"/>
<rect x="1151" y="266" width="3" height="53" fill="#ff0000"/>
<rect x="1156" y="227" width="1" height="41" fill="#ff0000"/>
<rect x="1155" y="247" width="3" height="19" fill="#ff0000"/>
<rect x="1160" y="244" width="1" height="16" fill="#00ff00"/>
<rect x="1159" y="247" width="3" height="3" fill="#00ff00"/>
<rect x="1164" y="222" width="1" height="28" fill="#ff0000"/>
<rect x="1163" y="238" width="3" height="6" fill="#ff0000"/>
<rect x="1168" y="201" width="1" height="41" fill="#ff0000"/>
<rect x="1167" y="216" width="3" height="23" fill="#ff0000"/>
<rect x="1172" y="172" width="1" height="47" fill="#ff0000"/>
<rect x="1171" y="175" width="3" height="42" fill="#ff0000"/>
<rect x="1176" y="116" width="1" height="84" fill="#ff0000"/>
<rect x="1175" y="136" width="3" height="40" fill="#ff0000"/>
<rect x="1180" y="115" width="1" height="24" fill="#ff0000"/>
<rect x="1179" y="128" width="3" height="9" fill="#ff0000"/>
<path d="M4,166.5h1M5,165.5h1M6,164.5h1M7,163.5h1M8,162.5h2M10,161.5h2M12,160.5h1M13,159.5h2M15,158.5h1M16,157.5h1M17,156.5h2M19,155.5h1M20,154.5h2M22,153.5h2M24,152.5h7M31,151.5h16M47,152.5h4M51,153.5h4M55,154.5h4M59,155.5h3M62,156.5h2M64,157.5h3M67,158.5h4M71,159.5h4M75,158.5h12M87,159.5h3M90,160.5h2M92,161.5h2M94,162.5h2M96,163.5h1M97,164.5h2M99,165.5h1M100,166.5h1M101.5,167v2M102,169.5h1M103.5,170v2M104,172.5h1M105,173.5h2M107,174.5h1M108,175.5h1M109,176.5h1M110,177.5h1M111,178.5h1M112,179.5h1M113,180.5h1M114,181.5h1M115,182.5h1M116,183.5h1M117.5,184v2M118,186.5h1M119.5,187v2M120,189.5h1M121,190.5h1M122,191.5h1M123,192.5h1M124,193.5h1M125,194.5h1M126.5,195v2M127,197.5h1M128,198.5h2M130,199.5h2M132,200.5h3M135,201.5h4M139,202.5h4M143,203.5h8M151,204.5h11M162,205.5h2M164,206.5h1M165,207.5h2M167,208.5h1M168,209.5h2M170,210.5h2M172,211.5h1M173,212.5h2M175,213.5h1M176,214.5h1M177,215.5h2M179,216.5h1M180,217.5h2M182,218.5h2M184,219.5h1M185,220.5h2M187,221.5h1M188,222.5h2M190,223.5h2M192,224.5h3M195,225.5h3M198,226.5h2M200,227.5h3M203,228.5h4M207,229.5h4M211,230.5h3M214,231.5h2M216,232.5h2M218,233.5h2M220,234.5h1M221,235.5h2M223,236.5h1M224,237.5h1M225,238.5h2M227,239.5h1M228,240.5h1M229,241.5h2M231,242.5h1M232,243.5h2M234,244.5h2M236,245.5h7M243,246.5h3M246,247.5h2M248,248.5h2M250,249.5h2M252,250.5h1M253,251.5h2M255,252.5h1M256,253.5h1M257,254.5h1M258,255.5h1M259,256.5h1M260,257.5h2M262,258.5h2M264,259.5h2M266,260.5h2M268,261.5h1M269,262.5h2M271,263.5h1M272,264.5h1M273,265.5h2M275,266.5h1M276,267.5h2M278,268.5h2M280,269.5h2M282,270.5h2M284,271.5h3M287,272.5h4M291,273.5h3M294,274.5h2M296,275.5h2M298,276.5h2M300,277.5h3M303,278.5h2M305,279.5h2M307,280.5h1M308,281.5h2M310,282.5h2M312,283.5h1M313,284.5h1M314,285.5h1M315,286.5h1M316,287.5h1M317,288.5h2M319,289.5h1M320,290.5h1M321,291.5h1M322,292.5h1M323,293.5h1M324,294.5h1M325,295.5h2M327,296.5h1M328,297.5h2M330,298.5h2M332,299.5h3M335,300.5h20M355,301.5h8M363,302.5h4M367,301.5h4M371,302.5h8M379,301.5h4M383,300.5h3M386,299.5h2M388,298.5h3M391,297.5h2M393,296.5h2M395,295.5h1M396,294.5h3M399,293.5h4M403,292.5h4M407,291.5h4M411,290.5h4M415,289.5h3M418,288.5h2M420,287.5h2M422,286.5h2M424,285.5h1M425,284.5h2M427,283.5h1M428,282.5h1M429,281.5h1M430,280.5h1M431,279.5h1M432,278.5h1M433,277.5h1M434,276.5h1M435,275.5h1M436,274.5h1M437,273.5h2M439,272.5h1M440,271.5h1M441,270.5h1M442.5,268v2M443,267.5h1M444,266.5h2M446,265.5h2M448,264.5h2M450,263.5h2M452,262.5h3M455,261.5h4M459,260.5h4M463,259.5h4M467,258.5h4M471,257.5h16M487,256.5h8M495,255.5h8M503,256.5h3M506,257.5h2M508,258.5h2M510,259.5h2M512,260.5h1M513,261.5h2M515,262.5h1M516,263.5h2M518,264.5h2M520,265.5h2M522,266.5h2M524,267.5h3M527,268.5h4M531,269.5h4M535,270.5h4M539,271.5h8M547,272.5h4M551,273.5h3M554,274.5h2M556,275.5h2M558,276.5h2M560,277.5h3M563,278.5h12M575,277.5h3M578,276.5h2M580,275.5h2M582,274.5h2M584,273.5h2M586,272.5h2M588,271.5h2M590,270.5h2M592,269.5h2M594,268.5h2M596,267.5h2M598,266.5h2M600,265.5h3M603,264.5h16M619,263.5h7M626,262.5h2M628,261.5h1M629,260.5h2M631,259.5h1M632,258.5h1M633,257.5h2M635,256.5h1M636,255.5h1M637,254.5h1M638,253.5h1M639,252.5h1M640,251.5h1M641,250.5h2M643,249.5h1M644,248.5h1M645,247.5h1M646,246.5h1M647,245.5h1M648,244.5h2M650,243.5h2M652,242.5h1M653,241.5h2M655,240.5h1M656,239.5h2M658,238.5h2M660,237.5h3M663,236.5h8M671,235.5h4M675,234.5h4M679,233.5h4M683,232.5h7M690,231.5h2M692,230.5h7M699,231.5h8M707,232.5h4M711,233.5h4M715,234.5h4M719,235.5h4M723,236.5h4M727,237.5h4M731,238.5h3M734,239.5h2M736,240.5h3M739,241.5h3M742,242.5h2M744,243.5h3M747,244.5h3M750,245.5h2M752,246.5h2M754,247.5h2M756,248.5h1M757,249.5h2M759,250.5h1M760,251.5h1M761,252.5h1M762,253.5h1M763,254.5h1M764,255.5h1M765,256.5h1M766,257.5h1M767,258.5h1M768,259.5h1M769,260.5h2M771,261.5h1M772,262.5h1M773,263.5h1M774,264.5h1M775,265.5h1M776,266.5h1M777,267.5h1M778,268.5h1M779,269.5h1M780,270.5h1M781,271.5h1M782,272.5h1M783,273.5h1M784,274.5h1M785,275.5h1M786,276.5h1M787,277.5h1M788,278.5h1M789,279.5h1M790.5,280v2M791,282.5h1M792,283.5h1M793,284.5h1M794,285.5h1M795,286.5h1M796,287.5h1M797,288.5h1M798.5,289v2M799,291.5h1M800,292.5h1M801,293.5h1M802.5,294v2M803,296.5h1M804,297.5h1M805,298.5h1M806.5,299v2M807,301.5h1M808,302.5h1M809.5,303v2M810,305.5h1M811.5,306v2M812,308.5h1M813.5,309v2M814,311.5h1M815.5,312v2M816,314.5h1M817,315.5h1M818,316.5h1M819,317.5h1M820,318.5h1M821,319.5h1M822,320.5h1M823,321.5h1M824,322.5h1M825,323.5h1M826,324.5h1M827,325.5h1M828,326.5h1M829,327.5h1M830,328.5h1M831,329.5h1M832,330.5h1M833,331.5h1M834,332.5h1M835,333.5h1M836,334.5h3M839,335.5h4M843,336.5h7M850,335.5h2M852,334.5h1M853,333.5h1M854,332.5h1M855,331.5h1M856,330.5h2M858,329.5h2M860,328.5h1M861,327.5h2M863,326.5h1M864,325.5h1M865,324.5h1M866,323.5h1M867,322.5h1M868,321.5h1M869,320.5h2M871,319.5h1M872,318.5h1M873.5,316v2M874.5,314v2M875.5,312v2M876,311.5h1M877,310.5h1M878.5,308v2M879,307.5h1M880,306.5h1M881,305.5h1M882.5,303v2M883,302.5h1M884,301.5h3M887,300.5h3M890,299.5h2M892,298.5h2M894,297.5h2M896,296.5h1M897,295.5h1M898,294.5h1M899,293.5h1M900,292.5h3M903,291.5h4M907,292.5h2M909,293.5h2M911,294.5h1M912,295.5h2M914,296.5h2M916,297.5h1M917,298.5h1M918,299.5h1M919,300.5h1M920,301.5h3M923,302.5h8M931,301.5h2M933,300.5h2M935,299.5h1M936,298.5h1M937,297.5h1M938,296.5h1M939,295.5h1M940,294.5h1M941,293.5h1M942,292.5h1M943,291.5h1M944,290.5h1M945,289.5h2M947,288.5h1M948,287.5h1M949,286.5h2M951,285.5h1M952,284.5h3M955,283.5h3M958,284.5h2M960,285.5h1M961,286.5h1M962,287.5h1M963,288.5h1M964,289.5h1M965,290.5h2M967,291.5h1M968,292.5h1M969.5,293v2M970,295.5h1M971.5,296v2M972,298.5h1M973,299.5h1M974.5,300v2M975,302.5h1M976,303.5h1M977,304.5h1M978.5,305v2M979,307.5h1M980,308.5h1M981,309.5h1M982,310.5h1M983,311.5h1M984,312.5h1M985.5,313v2M986,315.5h1M987.5,316v2M988,318.5h1M989.5,319v2M990.5,321v2M991.5,323v2M992.5,325v2M993.5,327v2M994.5,329v2M995.5,331v2M996.5,333v2M997.5,335v2M998,337.5h1M999.5,338v2M1000,340.5h1M1001.5,341v2M1002,343.5h1M1003.5,344v2M1004,346.5h1M1005,347.5h1M1006,348.5h1M1007,349.5h1M1008,350.5h1M1009,351.5h1M1010,352.5h1M1011,353.5h1M1012,354.5h1M1013,355.5h2M1015,356.5h1M1016,357.5h1M1017,358.5h1M1018.5,359v2M1019,361.5h1M1020,362.5h2M1022,363.5h2M1024,364.5h6M1030,363.5h2M1032,362.5h2M1034,361.5h2M1036,360.5h2M1038,359.5h2M1040,358.5h2M1042,357.5h2M1044,356.5h7M1051,355.5h3M1054,356.5h2M1056,357.5h3M1059,358.5h3M1062,359.5h2M1064,360.5h2M1066,361.5h2M1068,362.5h1M1069,363.5h2M1071,364.5h1M1072,365.5h2M1074,366.5h2M1076,367.5h3M1079,368.5h4M1083,367.5h8M1091,366.5h4M1095,367.5h6M1101,368.5h2M1103,369.5h1M1104,370.5h2M1106,371.5h2M1108,372.5h2M1110,373.5h2M1112,374.5h11M1123,373.5h3M1126,372.5h2M1128,371.5h11M1139,370.5h3M1142,369.5h2M1144,368.5h2M1146,367.5h2M1148,366.5h1M1149,365.5h1M1150.5,363v2M1151,362.5h1M1152,361.5h1M1153,360.5h1M1154.5,358v2M1155,357.5h1M1156,356.5h1M1157,355.5h1M1158.5,353v2M1159,352.5h1M1160,351.5h1M1161,350.5h1M1162.5,348v2M1163,347.5h1M1164,346.5h1M1165.5,344v2M1166,343.5h1M1167.5,341v2M1168,340.5h1M1169.5,338v2M1170.5,336v2M1171.5,334v2M1172,333.5h1M1173.5,331v2M1174,330.5h1M1175.5,328v2M1176,327.5h1M1177.5,325v2M1178,324.5h1M1179.5,322v2M1180,321.5h1" fill="none" stroke="#0000cd" stroke-width="1"/>
<path d="M4,145.5h1M5,144.5h1M6,143.5h1M7,142.5h1M8,141.5h1M9,140.5h2M11,139.5h1M12,138.5h2M14,137.5h2M16,136.5h1M17,135.5h2M19,134.5h1M20,133.5h2M22,132.5h2M24,131.5h6M30,132.5h2M32,133.5h1M33,134.5h2M35,135.5h1M36,136.5h1M37.5,137v2M38.5,139v2M39.5,141v2M40,143.5h1M41,144.5h1M42.5,145v2M43,147.5h1M44,148.5h1M45.5,149v2M46.5,151v2M47.5,153v2M48,155.5h1M49,156.5h2M51,157.5h1M52,158.5h1M53,159.5h2M55,160.5h1M56,161.5h1M57,162.5h1M58,163.5h1M59,164.5h1M60,165.5h1M61.5,166v2M62,168.5h1M63.5,169v2M64,171.5h1M65,172.5h2M67,173.5h1M68,174.5h1M69,175.5h2M71,176.5h1M72,177.5h2M74,178.5h2M76,179.5h2M78,180.5h2M80,181.5h5M85,182.5h2M87,183.5h1M88,184.5h2M90,185.5h2M92,186.5h2M94,187.5h2M96,188.5h1M97,189.5h1M98.5,190v2M99,192.5h1M100,193.5h1M101,194.5h1M102.5,195v2M103,197.5h1M104,198.5h1M105,199.5h1M106,200.5h1M107,201.5h1M108,202.5h1M109,203.5h1M110.5,204v2M111,206.5h1M112,207.5h1M113,208.5h1M114.5,209v2M115,211.5h1M116,212.5h1M117,213.5h1M118.5,214v2M119,216.5h1M120,217.5h1M121,218.5h1M122.5,219v2M123,221.5h1M124,222.5h1M125,223.5h1M126,224.5h1M127,225.5h1M128,226.5h3M131,227.5h4M135,228.5h4M139,227.5h3M142,226.5h2M144,225.5h1M145,224.5h2M147,223.5h1M148,222.5h2M150,221.5h2M152,220.5h1M153,219.5h2M155,218.5h1M156,217.5h2M158,216.5h2M160,215.5h7M167,216.5h3M170,217.5h2M172,218.5h3M175,217.5h8M183,218.5h2M185,219.5h2M187,220.5h1M188,221.5h1M189,222.5h1M190,223.5h1M191,224.5h1M192,225.5h1M193,226.5h1M194,227.5h1M195,228.5h1M196,229.5h2M198,230.5h2M200,231.5h1M201,232.5h1M202,233.5h1M203,234.5h1M204,235.5h1M205,236.5h1M206,237.5h1M207,238.5h1M208,239.5h1M209,240.5h1M210.5,241v2M211,243.5h1M212,244.5h1M213,245.5h1M214.5,246v2M215,248.5h1M216,249.5h1M217,250.5h1M218.5,251v2M219,253.5h1M220,254.5h1M221,255.5h1M222.5,256v2M223,258.5h1M224,259.5h1M225,260.5h1M226,261.5h1M227,262.5h1M228,263.5h1M229,264.5h1M230.5,265v2M231,267.5h1M232,268.5h1M233,269.5h2M235,270.5h1M236,271.5h2M238,272.5h2M240,273.5h2M242,274.5h2M244,275.5h2M246,276.5h2M248,277.5h1M249,278.5h2M251,279.5h1M252,280.5h1M253,281.5h1M254,282.5h1M255,283.5h1M256,284.5h1M257,285.5h1M258,286.5h1M259,287.5h1M260,288.5h7M267,289.5h4M271,288.5h6M277,287.5h2M279,286.5h1M280,285.5h1M281,284.5h1M282,283.5h1M283,282.5h1M284,281.5h1M285,280.5h2M287,279.5h1M288,278.5h3M291,279.5h4M295,280.5h3M298,281.5h2M300,282.5h3M303,283.5h2M305,284.5h1M306,285.5h1M307,286.5h1M308,287.5h1M309,288.5h1M310,289.5h1M311,290.5h1M312,291.5h2M314,292.5h2M316,293.5h1M317,294.5h1M318.5,295v2M319,297.5h1M320,298.5h1M321.5,299v2M322,301.5h1M323.5,302v2M324,304.5h1M325,305.5h1M326.5,306v2M327,308.5h1M328,309.5h2M330,310.5h2M332,311.5h1M333,312.5h2M335,313.5h1M336,314.5h1M337,315.5h2M339,316.5h1M340,317.5h2M342,318.5h2M344,319.5h3M347,320.5h2M349,321.5h2M351,322.5h1M352,323.5h9M361,322.5h1M362,321.5h1M363,320.5h1M364,319.5h1M365,318.5h2M367,317.5h1M368,316.5h1M369,315.5h1M370,314.5h1M371,313.5h1M372,312.5h1M373,311.5h2M375,310.5h1M376,309.5h1M377.5,307v2M378,306.5h1M379.5,304v2M380.5,302v2M381.5,300v2M382.5,298v2M383.5,296v2M384,295.5h1M385.5,293v2M386.5,291v2M387.5,289v2M388,288.5h1M389.5,286v2M390.5,284v2M391.5,282v2M392,281.5h1M393.5,279v2M394,278.5h1M395.5,276v2M396,275.5h1M397.5,273v2M398,272.5h1M399.5,270v2M400,269.5h1M401,268.5h1M402.5,266v2M403,265.5h1M404,264.5h1M405,263.5h1M406.5,261v2M407,260.5h1M408,259.5h1M409,258.5h1M410,257.5h1M411,256.5h1M412,255.5h2M414,254.5h2M416,253.5h2M418,252.5h2M420,251.5h1M421,250.5h2M423,249.5h1M424,248.5h1M425,247.5h2M427,246.5h1M428,245.5h1M429,244.5h1M430.5,242v2M431,241.5h1M432,240.5h1M433,239.5h2M435,238.5h1M436,237.5h3M439,236.5h6M445,237.5h2M447,238.5h1M448,239.5h2M450,240.5h2M452,241.5h1M453,242.5h1M454,243.5h1M455,244.5h1M456,245.5h1M457,246.5h2M459,247.5h1M460,248.5h1M461,249.5h2M463,250.5h1M464,251.5h2M466,252.5h2M468,253.5h2M470,254.5h2M472,255.5h1M473,256.5h2M475,257.5h1M476,258.5h1M477,259.5h1M478,260.5h1M479,261.5h1M480,262.5h1M481,263.5h2M483,264.5h1M484,265.5h1M485,266.5h1M486,267.5h1M487,268.5h1M488,269.5h1M489,270.5h2M491,271.5h1M492,272.5h1M493,273.5h2M495,274.5h1M496,275.5h1M497,276.5h2M499,277.5h1M500,278.5h6M506,279.5h2M508,280.5h7M515,281.5h8M523,282.5h4M527,283.5h4M531,282.5h8M539,281.5h4M543,280.5h8M551,279.5h4M555,280.5h4M559,281.5h3M562,280.5h2M564,279.5h2M566,278.5h2M568,277.5h1M569,276.5h2M571,275.5h1M572,274.5h1M573,273.5h1M574,272.5h1M575,271.5h1M576,270.5h1M577,269.5h1M578.5,267v2M579,266.5h1M580,265.5h1M581,264.5h1M582,263.5h1M583,262.5h1M584,261.5h1M585,260.5h1M586,259.5h1M587,258.5h1M588,257.5h1M589,256.5h1M590.5,254v2M591,253.5h1M592,252.5h2M594,251.5h2M596,250.5h3M599,249.5h8M607,250.5h3M610,249.5h2M612,248.5h3M615,247.5h4M619,246.5h6M625,245.5h2M627,244.5h1M628,243.5h2M630,242.5h2M632,241.5h1M633,240.5h2M635,239.5h1M636,238.5h1M637,237.5h1M638,236.5h1M639,235.5h1M640,234.5h1M641,233.5h2M643,232.5h1M644,231.5h3M647,230.5h3M650,229.5h2M652,228.5h2M654,227.5h2M656,226.5h1M657,225.5h2M659,224.5h1M660,223.5h1M661,222.5h2M663,221.5h1M664,220.5h3M667,219.5h8M675,218.5h4M679,217.5h4M683,218.5h3M686,219.5h2M688,220.5h2M690,221.5h2M692,222.5h1M693,223.5h2M695,224.5h1M696,225.5h1M697,226.5h1M698.5,227v2M699,229.5h1M700,230.5h1M701,231.5h1M702,232.5h1M703,233.5h1M704,234.5h1M705,235.5h2M707,236.5h1M708,237.5h2M710,238.5h2M712,239.5h1M713,240.5h1M714,241.5h1M715,242.5h1M716,243.5h1M717,244.5h1M718,245.5h1M719,246.5h1M720,247.5h1M721,248.5h2M723,249.5h1M724,250.5h1M725,251.5h2M727,252.5h1M728,253.5h1M729,254.5h1M730,255.5h1M731,256.5h1M732,257.5h1M733,258.5h1M734,259.5h1M735,260.5h1M736,261.5h1M737,262.5h1M738.5,263v2M739,265.5h1M740,266.5h1M741,267.5h2M743,268.5h1M744,269.5h1M745,270.5h2M747,271.5h1M748,272.5h2M750,273.5h2M752,274.5h3M755,275.5h3M758,276.5h2M760,277.5h1M761,278.5h2M763,279.5h1M764,280.5h1M765,281.5h1M766,282.5h1M767,283.5h1M768,284.5h1M769,285.5h1M770,286.5h1M771,287.5h1M772,288.5h1M773,289.5h1M774,290.5h1M775,291.5h1M776,292.5h1M777,293.5h1M778,294.5h1M779,295.5h1M780,296.5h1M781,297.5h1M782,298.5h1M783,299.5h1M784,300.5h1M785,301.5h1M786,302.5h1M787,303.5h1M788,304.5h1M789.5,305v2M790,307.5h1M791.5,308v2M792,310.5h1M793,311.5h1M794.5,312v2M795,314.5h1M796.5,315v2M797.5,317v2M798.5,319v2M799.5,321v2M800.5,323v2M801.5,325v2M802.5,327v2M803.5,329v2M804.5,331v3M805.5,334v2M806.5,336v3M807.5,339v2M808.5,341v3M809.5,344v2M810.5,346v2M811.5,348v2M812.5,350v3M813.5,353v2M814.5,355v2M815.5,357v2M816.5,359v2M817.5,361v2M818,363.5h1M819.5,364v2M820,366.5h1M821,367.5h1M822,368.5h1M823,369.5h1M824,370.5h1M825,371.5h1M826,372.5h1M827,373.5h1M828,374.5h1M829,375.5h2M831,376.5h1M832,377.5h2M834,378.5h2M836,379.5h2M838,378.5h2M840,377.5h1M841,376.5h1M842,375.5h1M843,374.5h1M844,373.5h1M845.5,371v2M846,370.5h1M847.5,368v2M848.5,366v2M849.5,363v3M850.5,361v2M851.5,358v3M852.5,355v3M853.5,352v3M854.5,349v3M855.5,346v3M856.5,343v3M857.5,340v3M858.5,337v3M859.5,334v3M860.5,331v3M861.5,328v3M862.5,324v4M863.5,321v3M864.5,317v4M865.5,312v5M866.5,308v4M867.5,303v5M868.5,298v5M869.5,293v5M870.5,289v4M871.5,284v5M872.5,279v5M873.5,274v5M874.5,268v6M875.5,263v5M876.5,258v5M877.5,254v4M878.5,249v5M879.5,245v4M880.5,241v4M881.5,237v4M882.5,233v4M883.5,229v4M884.5,226v3M885.5,224v2M886.5,222v2M887.5,220v2M888.5,218v2M889.5,216v2M890.5,214v2M891.5,212v2M892,211.5h1M893,210.5h2M895,209.5h1M896,208.5h1M897.5,206v2M898,205.5h1M899.5,203v2M900,202.5h2M902,203.5h2M904.5,204v2M905.5,206v3M906.5,209v2M907.5,211v3M908.5,214v4M909.5,218v4M910.5,222v5M911.5,227v4M912.5,231v5M913.5,236v4M914.5,240v4M915.5,244v4M916.5,248v5M917.5,253v5M918.5,258v4M919.5,262v5M920.5,267v5M921.5,272v5M922.5,277v6M923.5,283v5M924.5,288v5M925.5,293v5M926.5,298v4M927.5,302v5M928.5,307v5M929.5,312v5M930.5,317v6M931.5,323v5M932.5,328v4M933.5,332v3M934.5,335v3M935.5,338v3M936.5,341v3M937.5,344v2M938.5,346v2M939.5,348v2M940,350.5h3M943,349.5h3M946,350.5h2M948,351.5h2M950,352.5h2M952,353.5h1M953.5,354v2M954.5,356v2M955.5,358v2M956,360.5h1M957,361.5h1M958,362.5h1M959,363.5h1M960,364.5h2M962,365.5h2M964,366.5h1M965,365.5h1M966,364.5h1M967,363.5h1M968,362.5h1M969,361.5h1M970.5,359v2M971,358.5h1M972.5,356v2M973.5,354v2M974.5,352v2M975.5,350v2M976,349.5h1M977,348.5h1M978,347.5h1M979,346.5h1M980,345.5h1M981,344.5h1M982.5,342v2M983,341.5h1M984,340.5h1M985,339.5h1M986,338.5h1M987,337.5h1M988,336.5h1M989,337.5h2M991,338.5h1M992,339.5h1M993.5,340v2M994,342.5h1M995.5,343v2M996,345.5h1M997,346.5h1M998.5,347v2M999,349.5h1M1000,350.5h1M1001,351.5h1M1002,352.5h1M1003,353.5h1M1004,354.5h1M1005.5,355v2M1006,357.5h1M1007.5,358v2M1008,360.5h2M1010,361.5h2M1012,362.5h5M1017,361.5h2M1019,360.5h1M1020,359.5h3M1023,358.5h4M1027,357.5h2M1029,358.5h2M1031,359.5h1M1032,360.5h2M1034,361.5h2M1036,362.5h1M1037,363.5h1M1038.5,364v2M1039,366.5h1M1040,367.5h1M1041,368.5h1M1042,369.5h1M1043,370.5h1M1044,371.5h1M1045,372.5h1M1046,373.5h1M1047,374.5h1M1048,375.5h2M1050,376.5h2M1052,377.5h3M1055,378.5h2M1057,377.5h2M1059,376.5h1M1060,375.5h1M1061,374.5h1M1062.5,372v2M1063,371.5h1M1064,370.5h3M1067,369.5h4M1071,370.5h3M1074,371.5h2M1076,372.5h2M1078,373.5h2M1080,374.5h3M1083,373.5h4M1087,372.5h4M1091,371.5h3M1094,370.5h2M1096,369.5h3M1099,368.5h3M1102,369.5h2M1104,370.5h3M1107,371.5h2M1109,372.5h1M1110,373.5h1M1111,374.5h1M1112,375.5h1M1113,376.5h1M1114,377.5h1M1115,378.5h1M1116,379.5h3M1119,380.5h3M1122,379.5h2M1124,378.5h1M1125,377.5h1M1126,376.5h1M1127,375.5h1M1128,374.5h1M1129,373.5h1M1130,372.5h1M1131,371.5h1M1132,370.5h1M1133,369.5h2M1135,368.5h1M1136,367.5h3M1139,366.5h2M1141,365.5h1M1142.5,363v2M1143,362.5h1M1144,361.5h1M1145,360.5h1M1146.5,358v2M1147,357.5h1M1148.5,355v2M1149.5,353v2M1150.5,351v2M1151.5,349v2M1152.5,347v2M1153.5,345v2M1154.5,342v3M1155.5,340v2M1156.5,337v3M1157.5,334v3M1158.5,332v2M1159.5,329v3M1160.5,326v3M1161.5,323v3M1162.5,321v2M1163.5,318v3M1164.5,315v3M1165.5,312v3M1166.5,308v4M1167.5,305v3M1168.5,302v3M1169.5,299v3M1170.5,295v4M1171.5,292v3M1172.5,289v3M1173.5,285v4M1174.5,282v3M1175.5,278v4M1176.5,275v3M1177.5,272v3M1178.5,268v4M1179.5,265v3M1180.5,263v2" fill="none" stroke="#ff0000" stroke-width="1"/>
<path d="M4,105.5h3M7,106.5h2M9.5,107v2M10,109.5h1M11.5,110v2M12.5,112v2M13.5,114v3M14.5,117v2M15.5,119v3M16.5,122v3M17.5,125v2M18.5,127v3M19.5,130v2M20.5,132v3M21.5,135v2M22.5,137v3M23.5,140v2M24.5,142v4M25.5,146v4M26.5,150v4M27.5,154v4M28.5,158v3M29.5,161v2M30.5,163v2M31.5,165v2M32.5,167v3M33.5,170v2M34.5,172v3M35.5,175v2M36.5,177v2M37.5,179v2M38,181.5h1M39.5,182v2M40,184.5h1M41,185.5h2M43,186.5h1M44,187.5h1M45,186.5h1M46.5,184v2M47,183.5h1M48,182.5h1M49,181.5h2M51,180.5h1M52,179.5h1M53.5,177v2M54.5,175v2M55.5,173v2M56,172.5h1M57,171.5h1M58.5,169v2M59,168.5h1M60,167.5h1M61,168.5h1M62.5,169v2M63,171.5h1M64,172.5h1M65,173.5h2M67,174.5h1M68,175.5h1M69,176.5h2M71,177.5h1M72,178.5h1M73,179.5h1M74.5,180v2M75,182.5h1M76,183.5h1M77,184.5h1M78.5,185v2M79,187.5h1M80,188.5h3M83,187.5h2M84,188.5h1M85.5,189v2M86.5,191v2M87.5,193v2M88.5,195v2M89.5,197v2M90.5,199v2M91.5,201v2M92.5,203v2M93.5,205v2M94,207.5h1M95.5,208v2M96.5,210v2M97.5,212v2M98.5,214v3M99.5,217v2M100.5,219v3M101.5,222v2M102.5,224v3M103.5,227v2M104.5,229v2M105,230.5h2M107,231.5h4M111,230.5h2M113,231.5h2M115,232.5h1M116,233.5h1M117.5,234v2M118,236.5h1M119.5,237v2M120,239.5h3M123,240.5h2M125,241.5h1M126,242.5h1M127,243.5h1M128,244.5h1M129,243.5h1M130.5,241v2M131,240.5h1M132,239.5h1M133.5,237v2M134.5,235v2M135.5,233v2M136.5,230v3M137.5,226v4M138.5,221v5M139.5,217v4M140.5,213v4M141.5,211v2M142.5,208v3M143.5,206v2M144.5,203v3M145.5,200v3M146.5,198v2M147.5,195v3M148.5,193v2M149,193.5h2M151,192.5h4M155,191.5h2M157,192.5h1M158.5,193v2M159,195.5h1M160,196.5h1M161.5,197v2M162,199.5h1M163.5,200v2M164.5,202v2M165.5,204v3M166.5,207v3M167.5,210v3M168.5,213v3M169.5,216v3M170.5,219v3M171.5,222v3M172.5,225v3M173.5,228v3M174.5,231v3M175.5,234v3M176.5,237v3M177.5,240v2M178.5,242v2M179.5,244v2M180.5,246v2M181,248.5h1M182.5,249v2M183,251.5h1M184,252.5h3M187,253.5h6M193,252.5h1M194.5,250v2M195,249.5h1M196,248.5h1M197,247.5h1M198.5,245v2M199,244.5h1M200,243.5h2M202,242.5h2M204,241.5h3M207,242.5h6M212,243.5h1M213.5,244v2M214.5,246v2M215.5,248v2M216.5,250v4M217.5,254v4M218.5,258v4M219.5,262v4M220.5,266v3M221.5,269v4M222.5,273v3M223.5,276v4M224.5,280v3M225.5,283v3M226.5,286v3M227.5,289v3M228.5,292v3M229.5,295v3M230.5,298v3M231.5,301v3M232.5,304v2M233,306.5h1M234,307.5h1M235,308.5h1M236,309.5h1M237,308.5h1M238.5,306v2M239,305.5h1M240,304.5h1M241.5,302v2M242.5,300v2M243.5,298v2M244,297.5h1M245.5,295v2M246,294.5h1M247.5,292v2M248.5,290v2M249.5,288v2M250.5,286v2M251.5,284v2M252.5,282v2M253,282.5h1M254,281.5h2M256,280.5h1M257,281.5h1M258,282.5h1M259,283.5h1M260,284.5h1M261,283.5h1M262,282.5h1M263,281.5h1M264,280.5h1M265,279.5h1M266,278.5h1M267,277.5h1M268,276.5h3M271,275.5h2M273,276.5h2M275,277.5h1M276,278.5h1M277.5,276v2M278,275.5h1M279.5,273v2M280,272.5h2M282,273.5h2M284,274.5h1M285,275.5h2M287,276.5h1M288,277.5h1M289.5,278v2M290,280.5h1M291.5,281v2M292,283.5h3M295,282.5h2M296,283.5h1M297.5,284v2M298.5,286v2M299.5,288v2M300,290.5h1M301.5,291v2M302,293.5h1M303.5,294v2M304.5,296v2M305.5,298v2M306.5,300v2M307.5,302v2M308.5,304v2M309.5,306v2M310.5,308v2M311.5,310v2M312.5,312v2M313.5,314v2M314.5,316v2M315.5,318v2M316,320.5h1M317,321.5h1M318.5,322v2M319,324.5h1M320.5,325v2M321.5,327v2M322.5,329v3M323.5,332v2M324.5,334v2M325,335.5h1M326,336.5h2M328,337.5h3M331,336.5h2M333,335.5h1M334.5,333v2M335,332.5h1M336,331.5h1M337,330.5h1M338,329.5h1M339,328.5h1M340.5,326v2M341.5,324v2M342.5,322v2M343.5,320v2M344,319.5h1M345,318.5h1M346.5,316v2M347,315.5h1M348,314.5h7M355,315.5h2M357,314.5h1M358,313.5h1M359,312.5h1M360,311.5h1M361.5,309v2M362,308.5h1M363.5,306v2M364,305.5h1M365.5,303v2M366,302.5h1M367.5,300v2M368.5,298v2M369.5,296v2M370.5,294v2M371.5,292v2M372,291.5h1M373.5,289v2M374,288.5h1M375.5,286v2M376,285.5h1M377.5,283v2M378,282.5h1M379.5,280v2M380.5,278v2M381.5,276v2M382.5,273v3M383.5,271v2M384.5,268v3M385.5,265v3M386.5,263v2M387.5,260v3M388.5,257v3M389.5,253v4M390.5,250v3M391.5,246v4M392.5,243v3M393.5,240v3M394.5,238v2M395.5,235v3M396.5,233v2M397.5,231v2M398.5,229v2M399.5,227v2M400,226.5h2M402,227.5h2M404,228.5h1M405,229.5h1M406.5,230v2M407,232.5h1M408.5,233v2M409.5,235v2M410.5,237v2M411.5,239v2M412.5,241v2M413.5,243v2M414.5,245v2M415.5,247v2M416,249.5h1M417,250.5h1M418,251.5h1M419,252.5h1M420,253.5h6M426,252.5h2M428.5,250v2M429.5,248v2M430.5,246v2M431.5,244v2M432.5,242v2M433.5,240v2M434.5,238v2M435.5,236v2M436.5,234v2M437.5,232v2M438.5,230v2M439.5,228v2M440,227.5h1M441,226.5h1M442,225.5h1M443,224.5h1M444,223.5h1M445,224.5h1M446.5,225v2M447,227.5h1M448.5,228v2M449.5,230v2M450.5,232v2M451.5,234v2M452.5,236v2M453.5,238v3M454.5,241v4M455.5,245v3M456.5,248v3M457.5,251v4M458.5,255v3M459.5,258v4M460.5,262v3M461.5,265v4M462.5,269v3M463.5,272v4M464.5,276v2M465,278.5h1M466,279.5h1M467,280.5h1M468,281.5h1M469.5,282v2M470,284.5h1M471.5,285v2M472,287.5h1M473,288.5h1M474,289.5h1M475,290.5h1M476,291.5h2M478,292.5h2M480,293.5h1M481,292.5h2M483,291.5h1M484,290.5h2M486,289.5h2M488,288.5h1M489.5,286v2M490.5,284v2M491.5,282v2M492,281.5h1M493.5,279v2M494.5,277v2M495.5,275v2M496,274.5h1M497.5,272v2M498.5,270v2M499.5,268v2M500,267.5h2M502,266.5h2M504,265.5h2M506,266.5h2M508,267.5h1M509,268.5h1M510.5,269v2M511,271.5h1M512,272.5h1M513.5,273v2M514.5,275v2M515.5,277v2M516,279.5h1M517.5,280v2M518,282.5h1M519.5,283v2M520.5,285v2M521.5,287v2M522.5,289v2M523.5,291v2M524,293.5h1M525,294.5h2M527,295.5h1M528,296.5h7M535,295.5h2M537.5,293v2M538,292.5h1M539.5,290v2M540.5,288v2M541.5,286v2M542.5,284v2M543.5,282v2M544.5,279v3M545.5,277v2M546.5,275v2M547.5,273v2M548,272.5h1M549.5,270v2M550.5,268v2M551.5,266v2M552,265.5h1M553,264.5h2M555,263.5h1M556,262.5h2M558,263.5h2M560,264.5h3M563,265.5h8M571,266.5h2M573.5,264v2M574.5,262v2M575.5,260v2M576.5,258v2M577.5,256v2M578.5,254v2M579.5,252v2M580.5,250v2M581,249.5h1M582.5,247v2M583,246.5h1M584,245.5h1M585,244.5h1M586.5,242v2M587,241.5h1M588,240.5h1M589.5,238v2M590.5,236v2M591.5,234v2M592,233.5h3M595,232.5h3M598,233.5h2M600,234.5h1M601,235.5h2M603,236.5h1M604,237.5h1M605.5,238v2M606.5,240v2M607.5,242v2M608,244.5h1M609.5,245v2M610.5,247v2M611.5,249v2M612,251.5h1M613,252.5h1M614,253.5h1M615,254.5h1M616,255.5h1M617,256.5h2M619,257.5h1M620,258.5h3M623,257.5h2M624,256.5h1M625.5,254v2M626.5,251v3M627.5,249v2M628.5,246v3M629.5,244v2M630.5,241v3M631.5,239v2M632.5,236v3M633.5,233v3M634.5,231v2M635.5,228v3M636.5,225v3M637.5,221v4M638.5,218v3M639.5,214v4M640.5,211v3M641.5,208v3M642.5,205v3M643.5,202v3M644.5,200v2M645,199.5h1M646,198.5h1M647,197.5h1M648,196.5h2M650,197.5h2M652,198.5h1M653,199.5h2M655,200.5h1M656,201.5h1M657,202.5h1M658,203.5h1M659,204.5h1M660.5,205v2M661.5,207v2M662.5,209v2M663.5,211v2M664.5,213v2M665.5,215v2M666.5,217v2M667.5,219v2M668.5,221v2M669,223.5h1M670.5,224v2M671,226.5h1M672,227.5h1M673.5,228v2M674,230.5h1M675.5,231v2M676,233.5h1M677.5,234v2M678.5,236v2M679.5,238v2M680,240.5h9M689,239.5h1M690,238.5h1M691,237.5h1M692,236.5h1M693,235.5h2M695,234.5h1M696,233.5h1M697,234.5h2M699,235.5h1M700,236.5h1M701,237.5h1M702,238.5h1M703,239.5h1M704,240.5h1M705,241.5h1M706,242.5h1M707,243.5h1M708,244.5h1M709.5,245v2M710,247.5h1M711.5,248v2M712,250.5h1M713.5,251v2M714,253.5h1M715.5,254v2M716,256.5h1M717,257.5h1M718.5,258v2M719,260.5h1M720,261.5h1M721.5,262v2M722.5,264v2M723.5,266v2M724,268.5h1M725,269.5h1M726.5,270v2M727,272.5h1M728.5,273v2M729.5,275v2M730.5,277v2M731.5,279v2M732.5,281v3M733.5,284v2M734.5,286v2M735.5,288v2M736,290.5h1M737,291.5h1M738.5,292v2M739,294.5h1M740,295.5h3M743,294.5h2M745.5,292v2M746,291.5h1M747.5,289v2M748,288.5h1M749.5,286v2M750.5,284v2M751.5,282v2M752,281.5h1M753.5,279v2M754,278.5h1M755.5,276v2M756,275.5h1M757,274.5h1M758.5,272v2M759,271.5h1M760,270.5h1M761,271.5h1M762,272.5h1M763,273.5h1M764.5,274v2M765.5,276v3M766.5,279v2M767.5,281v3M768.5,284v3M769.5,287v3M770.5,290v3M771.5,293v3M772.5,296v3M773.5,299v3M774.5,302v3M775.5,305v3M776.5,308v3M777.5,311v3M778.5,314v2M779.5,316v3M780.5,319v3M781.5,322v2M782.5,324v2M783.5,326v2M784.5,328v3M785.5,331v2M786.5,333v2M787.5,335v2M788.5,337v3M789.5,340v3M790.5,343v3M791.5,346v3M792.5,349v3M793.5,352v2M794.5,354v3M795.5,357v2M796.5,359v3M797.5,362v2M798.5,364v2M799.5,366v2M800.5,368v3M801.5,371v2M802.5,373v2M803.5,375v2M804.5,377v2M805.5,379v2M806.5,381v2M807.5,383v2M808,385.5h1M809.5,386v2M810,388.5h1M811.5,389v2M812,391.5h1M813,392.5h1M814.5,393v2M815,395.5h1M816,396.5h2M818,395.5h2M820,394.5h1M821,393.5h2M823,392.5h1M824,391.5h1M825,390.5h2M827,389.5h1M828.5,387v2M829.5,385v2M830.5,383v2M831.5,381v2M832,380.5h1M833.5,378v2M834,377.5h1M835.5,375v2M836.5,373v2M837.5,369v4M838.5,366v3M839.5,362v4M840.5,359v3M841.5,356v3M842.5,352v4M843.5,349v3M844.5,345v4M845.5,341v4M846.5,336v5M847.5,332v4M848.5,326v6M849.5,319v7M850.5,313v6M851.5,306v7M852.5,298v8M853.5,290v8M854.5,282v8M855.5,274v8M856.5,268v6M857.5,264v4M858.5,260v4M859.5,256v4M860.5,251v5M861.5,246v5M862.5,241v5M863.5,236v5M864.5,230v6M865.5,223v7M866.5,215v8M867.5,208v7M868.5,202v6M869.5,197v5M870.5,193v4M871.5,188v5M872.5,182v6M873.5,176v6M874.5,170v6M875.5,164v6M876.5,158v6M877.5,153v5M878.5,147v6M879.5,142v5M880.5,138v4M881.5,136v2M882.5,134v2M883.5,132v2M884.5,130v2M884.5,131v2M885.5,133v6M886.5,139v6M887.5,145v6M888.5,151v6M889.5,157v6M890.5,163v7M891.5,170v6M892.5,176v8M893.5,184v9M894.5,193v9M895.5,202v9M896.5,211v7M897.5,218v5M898.5,223v6M899.5,229v5M900.5,234v6M901.5,240v8M902.5,248v8M903.5,256v8M904.5,264v7M905.5,271v6M906.5,277v7M907.5,284v6M908.5,290v8M909.5,298v10M910.5,308v9M911.5,317v10M912.5,327v10M913.5,337v10M914.5,347v10M915.5,357v10M916.5,367v11M917.5,378v12M918.5,390v12M919.5,402v12M920.5,414v9M921.5,423v6M922.5,429v5M923.5,434v6M924.5,440v3M925,443.5h1M926,444.5h1M927,445.5h1M928.5,445v2M929.5,442v3M930.5,438v4M931.5,435v3M932.5,429v6M933.5,420v9M934.5,411v9M935.5,402v9M936.5,392v10M937.5,382v10M938.5,372v10M939.5,362v10M940.5,352v10M941.5,343v9M942.5,333v10M943.5,324v9M944.5,317v7M945.5,311v6M946.5,305v6M947.5,299v6M948.5,294v5M949.5,289v5M950.5,285v4M951.5,280v5M952.5,277v3M952,278.5h1M953.5,279v2M954.5,281v3M955.5,284v2M956.5,286v4M957.5,290v5M958.5,295v5M959.5,300v5M960.5,305v7M961.5,312v8M962.5,320v8M963.5,328v8M964.5,336v7M965.5,343v5M966.5,348v6M967.5,354v5M968.5,359v5M969.5,364v6M970.5,370v5M971.5,375v6M972.5,381v3M973,384.5h1M974.5,385v2M975,387.5h1M976,388.5h3M979,387.5h2M980,386.5h1M981.5,383v3M982.5,379v4M983.5,376v3M984.5,373v3M985.5,369v4M986.5,366v3M987.5,362v4M988.5,359v3M989.5,356v3M990.5,352v4M991.5,349v3M992.5,347v2M993,347.5h1M994,346.5h2M996.5,344v2M997.5,341v3M998.5,339v2M999.5,336v3M1000.5,334v2M1001,334.5h1M1002,335.5h2M1004.5,336v2M1005.5,338v3M1006.5,341v2M1007.5,343v3M1008.5,346v2M1009,348.5h1M1010.5,349v2M1011,351.5h1M1012,352.5h1M1013,353.5h1M1014,354.5h1M1015,355.5h1M1016.5,356v2M1017.5,358v2M1018.5,360v3M1019.5,363v2M1020.5,365v2M1021.5,367v2M1022,369.5h1M1023.5,370v2M1024,372.5h3M1027,373.5h2M1029.5,374v2M1030.5,376v2M1031.5,378v2M1032,380.5h1M1033.5,381v2M1034.5,383v2M1035.5,385v2M1036.5,387v2M1037.5,389v2M1038.5,391v2M1039.5,393v2M1040,395.5h2M1042,396.5h2M1044,397.5h5M1049,396.5h1M1050,395.5h1M1051,394.5h1M1052.5,392v2M1053.5,388v4M1054.5,385v3M1055.5,381v4M1056.5,377v4M1057.5,372v5M1058.5,366v6M1059.5,361v5M1060.5,357v4M1061.5,353v4M1062.5,349v4M1063.5,345v4M1064.5,342v3M1065.5,340v2M1066.5,338v2M1067.5,336v2M1068,335.5h3M1071,336.5h2M1072,337.5h1M1073.5,338v3M1074.5,341v4M1075.5,345v3M1076.5,348v4M1077.5,352v5M1078.5,357v4M1079.5,361v5M1080.5,366v4M1081.5,370v3M1082.5,373v4M1083.5,377v3M1084.5,380v2M1085.5,382v2M1086.5,384v2M1087.5,386v2M1088,388.5h1M1089,389.5h2M1091,390.5h1M1092,391.5h1M1093.5,389v2M1094,388.5h1M1095.5,386v2M1096,385.5h2M1098,384.5h2M1100,383.5h1M1101,384.5h1M1102.5,385v2M1103,387.5h1M1104,388.5h1M1105,389.5h2M1107,390.5h1M1108,391.5h5M1113,390.5h1M1114,389.5h1M1115,388.5h1M1116.5,386v2M1117.5,384v2M1118.5,381v3M1119.5,379v2M1120.5,375v4M1121.5,370v5M1122.5,366v4M1123.5,361v5M1124.5,357v4M1125.5,353v4M1126.5,350v3M1127.5,346v4M1128.5,343v3M1129.5,341v2M1130.5,339v2M1131.5,337v2M1132,336.5h5M1137,337.5h1M1138,338.5h1M1139,339.5h1M1140,340.5h3M1143,341.5h4M1147,340.5h2M1148.5,338v2M1149.5,334v4M1150.5,329v5M1151.5,325v4M1152.5,320v5M1153.5,314v6M1154.5,309v5M1155.5,303v6M1156.5,298v5M1157.5,293v5M1158.5,287v6M1159.5,282v5M1160.5,278v4M1161.5,274v4M1162.5,270v4M1163.5,266v4M1164.5,262v4M1165.5,257v5M1166.5,251v6M1167.5,246v5M1168.5,241v5M1169.5,237v4M1170.5,232v5M1171.5,228v4M1172.5,223v5M1173.5,217v6M1174.5,212v5M1175.5,206v6M1176.5,200v6M1177.5,194v6M1178.5,188v6M1179.5,182v6M1180.5,179v3" fill="none" stroke="#ffa500" stroke-width="1"/>
<rect x="1185" y="24" width="9" height="1" fill="#c0c0c0"/>
<rect x="1186" y="25" width="7" height="1" fill="#c0c0c0"/>
<rect x="1187" y="26" width="5" height="1" fill="#c0c0c0"/>
<rect x="1188" y="27" width="3" height="1" fill="#c0c0c0"/>
<rect x="1189" y="28" width="1" height="1" fill="#c0c0c0"/>
<rect x="4" y="144" width="1484" height="2" fill="#ff0000"/>
<rect x="4" y="197" width="1484" height="2" fill="#ff0000"/>
<rect x="4" y="248" width="1484" height="2" fill="#00ff00"/>
<rect x="4" y="300" width="1484" height="2" fill="#0000ff"/>
<rect x="4" y="362" width="1484" height="2" fill="#0000ff"/>
<rect x="4" y="418" width="1484" height="2" fill="#0000ff"/>
<rect x="4" y="490" width="1484" height="2" fill="#0000ff"/>
<path d="M4,533.5h5M8,534.5h1M9.5,535v2M10.5,537v3M11.5,540v2M12.5,542v2M13,543.5h2M15,544.5h2M17,545.5h2M19,546.5h1M20,547.5h3M23,546.5h2M25.5,547v2M26.5,549v2M27.5,551v2M28,553.5h3M31,552.5h3M34,553.5h2M36,554.5h5M40,553.5h1M41.5,551v2M42.5,549v2M43.5,547v2M44,546.5h7M51,547.5h3M54,546.5h2M56,545.5h3M59,546.5h2M61.5,547v2M62,549.5h1M63.5,550v2M64,552.5h1M65,551.5h2M67,550.5h1M68,549.5h3M71,550.5h4M75,551.5h10M84,552.5h1M85.5,553v2M86.5,555v2M87.5,557v2M88,559.5h3M91,560.5h2M93,559.5h2M95,558.5h1M96,557.5h1M97,558.5h1M98,559.5h1M99,560.5h1M100,561.5h3M103,560.5h2M105,559.5h1M106,558.5h1M107,557.5h1M108,556.5h3M111,555.5h3M114,556.5h2M116,557.5h1M117.5,558v2M118.5,560v2M119.5,562v2M120.5,563v2M121.5,561v2M122.5,559v2M123.5,557v2M124.5,555v2M125,555.5h4M128,554.5h1M129.5,551v3M130.5,548v3M131.5,545v3M132.5,543v2M133,543.5h4M137,542.5h1M138,541.5h1M139,540.5h1M140,539.5h1M141,540.5h1M142,541.5h1M143,542.5h1M144,543.5h2M146,542.5h2M148,541.5h2M150,542.5h2M152,543.5h3M155,542.5h2M157,543.5h1M158,544.5h1M159,545.5h1M160,546.5h1M161,547.5h1M162.5,548v2M163,550.5h1M164,551.5h1M165,552.5h1M166,553.5h1M167,554.5h1M168,555.5h3M171,556.5h4M175,555.5h8M183,556.5h4M187,555.5h4M191,556.5h2M192,555.5h1M193.5,553v2M194.5,550v3M195.5,548v2M196.5,546v2M197,546.5h4M201,547.5h1M202.5,548v2M203,550.5h1M204,551.5h2M206,552.5h2M208,553.5h3M211,554.5h2M213,555.5h2M215,556.5h1M216,557.5h1M217.5,558v2M218,560.5h1M219.5,561v2M220,563.5h3M223,564.5h4M227,565.5h6M232,564.5h1M233.5,561v3M234.5,559v2M235.5,556v3M236.5,554v2M237,554.5h1M238,553.5h2M240,552.5h3M243,551.5h3M246,552.5h2M248,553.5h1M249,552.5h1M250.5,550v2M251,549.5h1M252,548.5h2M254,549.5h2M256,550.5h1M257,551.5h1M258.5,552v2M259,554.5h1M260.5,554v2M261.5,551v3M262.5,549v2M263.5,546v3M264.5,544v2M265,544.5h6M271,545.5h2M272,546.5h1M273.5,547v2M274.5,549v2M275.5,551v2M276.5,552v2M277.5,550v2M278.5,548v2M279.5,546v2M280,545.5h6M286,546.5h2M288,547.5h1M289,548.5h1M290.5,549v2M291,551.5h1M292,552.5h2M294,551.5h2M296,550.5h1M297,551.5h2M299,552.5h1M300,553.5h2M302,552.5h2M304,551.5h1M305,552.5h1M306.5,553v2M307,555.5h1M308,556.5h3M311,557.5h10M321,558.5h1M322,559.5h1M323,560.5h1M324,561.5h1M325,560.5h1M326.5,558v2M327,557.5h1M328,556.5h1M329,555.5h1M330,554.5h1M331,553.5h1M332,552.5h1M333,551.5h1M334.5,549v2M335,548.5h1M336,547.5h2M338,548.5h2M340,549.5h2M342,548.5h2M344,547.5h5M349,548.5h1M350.5,549v2M351,551.5h1M352,552.5h1M353,551.5h1M354.5,549v2M355,548.5h1M356,547.5h1M357,546.5h1M358.5,544v2M359,543.5h1M360,542.5h1M361,541.5h2M363,540.5h1M364,539.5h6M370,540.5h2M372,541.5h3M375,540.5h2M377,539.5h1M378.5,537v2M379,536.5h1M380,535.5h1M381,534.5h1M382.5,532v2M383,531.5h1M384,530.5h2M386,529.5h2M388,528.5h6M394,529.5h2M396,530.5h2M398,531.5h2M400,532.5h1M401,533.5h1M402,534.5h1M403,535.5h1M404,536.5h1M405,537.5h2M407,538.5h1M408,539.5h1M409,540.5h2M411,541.5h1M412,542.5h6M418,541.5h2M420,540.5h1M421,539.5h2M423,538.5h1M424,537.5h3M427,536.5h2M429,535.5h1M430,534.5h1M431,533.5h1M432,532.5h3M435,531.5h4M439,532.5h3M442,533.5h2M444.5,534v2M445.5,536v4M446.5,540v3M447.5,543v4M448.5,547v2M449,548.5h4M453,549.5h2M455,550.5h1M456,551.5h1M457,552.5h2M459,553.5h1M460,554.5h3M463,555.5h2M465,554.5h2M467,553.5h1M468,552.5h1M469,553.5h2M471,554.5h1M472,555.5h7M479,556.5h2M480,555.5h1M481.5,553v2M482.5,551v2M483.5,549v2M484.5,547v2M485,547.5h2M487,546.5h2M489,545.5h1M490,544.5h1M491,543.5h1M492,542.5h6M498,543.5h2M500,544.5h3M503,543.5h2M505.5,544v2M506.5,546v2M507.5,548v2M508,550.5h3M511,551.5h2M513,552.5h2M515,553.5h1M516,554.5h6M522,555.5h2M524,556.5h2M526,555.5h2M528,554.5h1M529,553.5h1M530.5,551v2M531,550.5h1M532,549.5h2M534,550.5h2M536.5,550v2M537.5,547v3M538.5,545v2M539.5,542v3M540.5,540v2M541,540.5h2M543,539.5h4M547,538.5h4M551,537.5h2M552,538.5h1M553.5,539v2M554.5,541v2M555.5,543v2M556,545.5h5M561,544.5h2M563,543.5h1M564,542.5h1M565,541.5h2M567,540.5h1M568,539.5h3M571,540.5h2M573,539.5h1M574.5,537v2M575,536.5h1M576,535.5h1M577,534.5h2M579,533.5h1M580,532.5h1M581,533.5h1M582,534.5h1M583,535.5h1M584,536.5h1M585,535.5h2M587,534.5h1M588,533.5h2M590,532.5h2M592,531.5h1M593.5,532v2M594.5,534v2M595.5,536v2M596,538.5h2M598,539.5h2M600,540.5h1M601,541.5h1M602.5,542v2M603,544.5h1M604,545.5h1M605,546.5h2M607,547.5h1M608,548.5h1M609,547.5h2M611,546.5h1M612,545.5h3M615,544.5h4M619,545.5h3M622,544.5h2M624.5,542v2M625.5,540v2M626.5,537v3M627.5,535v2M628.5,533v2M629,533.5h1M630,532.5h2M632,531.5h2M634,530.5h2M636,529.5h2M638,528.5h2M640,527.5h2M642,528.5h2M644,529.5h2M646,530.5h2M648.5,531v2M649.5,533v2M650.5,535v2M651.5,537v2M652.5,539v2M653,540.5h2M655,539.5h2M657,538.5h2M659,537.5h1M660.5,536v2M661.5,538v2M662.5,540v2M663.5,542v2M664,544.5h1M665,545.5h1M666,546.5h1M667,547.5h1M668,548.5h3M671,549.5h4M675,548.5h4M679,547.5h2M681,546.5h2M683,545.5h1M684,544.5h1M685,545.5h2M687,546.5h1M688,547.5h1M689,546.5h1M690.5,544v2M691,543.5h1M692,542.5h2M694,543.5h2M696,544.5h1M697.5,545v2M698.5,547v2M699.5,549v2M700,551.5h7M707,552.5h2M709,551.5h2M711,550.5h1M712,549.5h1M713,550.5h1M714,551.5h1M715,552.5h1M716,553.5h1M717,554.5h1M718,555.5h1M719,556.5h1M720,557.5h2M722,558.5h2M724,559.5h3M727,558.5h3M730,559.5h2M732,560.5h3M735,561.5h6M740,560.5h1M741.5,558v2M742.5,556v2M743.5,554v2M744.5,552v2M745.5,550v2M746.5,548v2M747.5,546v2M748.5,544v2M749,544.5h4M753,545.5h1M754.5,546v2M755,548.5h1M756,549.5h2M758,550.5h2M760,551.5h1M761,552.5h1M762.5,553v2M763,555.5h1M764,556.5h2M766,557.5h2M768,558.5h3M771,559.5h3M774,560.5h2M776,561.5h2M778,562.5h2M780,563.5h3M783,564.5h3M786,565.5h2M788,566.5h1M789,567.5h2M791,568.5h1M792,569.5h7M799,570.5h8M807,571.5h3M810,572.5h2M812,573.5h1M813,572.5h2M815,571.5h1M816.5,569v2M817.5,566v3M818.5,563v3M819.5,560v3M820.5,558v2M821,558.5h2M823,557.5h7M830,556.5h2M832,555.5h5M836.5,553v2M837.5,548v5M838.5,544v4M839.5,539v5M840.5,536v3M841,536.5h4M845,535.5h1M846.5,533v2M847,532.5h1M848,531.5h1M849.5,529v2M850.5,527v2M851.5,525v2M852,524.5h2M854,523.5h2M856,522.5h1M857.5,523v2M858,525.5h1M859.5,526v2M860,528.5h1M861,527.5h2M863,526.5h1M864,525.5h1M865,524.5h1M866.5,522v2M867,521.5h1M868,520.5h5M873,519.5h2M875,518.5h1M876.5,517v2M877.5,519v2M878.5,521v2M879.5,523v2M880.5,525v2M881.5,527v2M882,529.5h1M883.5,530v2M884.5,532v2M885.5,534v4M886.5,538v3M887.5,541v4M888.5,545v2M889,546.5h2M891,547.5h4M895,546.5h2M897,545.5h1M898,544.5h1M899,543.5h1M900.5,542v2M901.5,544v2M902.5,546v2M903.5,548v2M904.5,550v2M905.5,552v2M906,554.5h1M907.5,555v2M908,557.5h1M909,558.5h1M910,559.5h1M911,560.5h1M912,561.5h3M915,562.5h6M921.5,560v2M922,559.5h1M923.5,557v2M924,556.5h2M926,555.5h2M928,554.5h1M929,553.5h2M931,552.5h1M932.5,550v2M933.5,548v2M934.5,546v2M935.5,544v2M936.5,542v2M937,542.5h2M939,541.5h2M941,540.5h2M943,539.5h1M944,538.5h1M945,539.5h1M946.5,540v2M947,542.5h1M948,543.5h5M953,544.5h1M954,545.5h1M955,546.5h1M956,547.5h1M957,548.5h2M959,549.5h1M960,550.5h1M961,551.5h2M963,552.5h1M964,553.5h3M967,552.5h6M973,551.5h1M974,550.5h1M975,549.5h1M976,548.5h3M979,549.5h2M981,548.5h1M982,547.5h1M983,546.5h1M984,545.5h3M987,544.5h4M991,545.5h4M995,546.5h2M997,545.5h2M999,544.5h1M1000,543.5h1M1001,544.5h2M1003,545.5h1M1004,546.5h1M1005,547.5h1M1006,548.5h1M1007,549.5h1M1008,550.5h2M1010,549.5h2M1012,548.5h11M1023,549.5h3M1026,550.5h2M1028,551.5h3M1031,552.5h4M1035,553.5h6M1041,552.5h2M1043,551.5h1M1044,550.5h3M1047,549.5h3M1050,548.5h2M1052,547.5h1M1053.5,545v2M1054.5,543v2M1055.5,541v2M1056,540.5h1M1057,539.5h1M1058,538.5h1M1059,537.5h1M1060,536.5h2M1062,537.5h2M1064,538.5h1M1065.5,539v2M1066,541.5h1M1067.5,542v2M1068,544.5h1M1069,545.5h1M1070.5,546v2M1071,548.5h1M1072,549.5h2M1074,550.5h2M1076,551.5h5M1081,550.5h1M1082,549.5h1M1083,548.5h1M1084,547.5h3M1087,548.5h3M1090,549.5h2M1092,550.5h1M1093,549.5h1M1094,548.5h1M1095,547.5h1M1096,546.5h2M1098,547.5h2M1100,548.5h1M1101,549.5h2M1103,550.5h1M1104,551.5h2M1106,550.5h2M1108,549.5h5M1112,548.5h1M1113.5,546v2M1114.5,544v2M1115.5,542v2M1116,541.5h2M1118,540.5h2M1120,539.5h1M1121,538.5h1M1122,537.5h1M1123,536.5h1M1124,535.5h1M1125,536.5h2M1127,537.5h1M1128,538.5h1M1129.5,539v2M1130,541.5h1M1131.5,542v2M1132,544.5h3M1135,543.5h6M1141.5,541v2M1142,540.5h1M1143.5,538v2M1144,537.5h3M1147,538.5h2M1149.5,536v2M1150.5,534v2M1151.5,532v2M1152,531.5h2M1154,530.5h2M1156,529.5h7M1163,528.5h3M1166,527.5h2M1168,526.5h1M1169,525.5h1M1170,524.5h1M1171,523.5h1M1172,522.5h2M1174,521.5h2M1176,520.5h3M1179,519.5h2" fill="none" stroke="#1e90ff" stroke-width="1"/>
<rect x="4" y="624" width="1" height="16" fill="#c0c0c0"/>
<rect x="8" y="623" width="1" height="17" fill="#c0c0c0"/>
<rect x="12" y="625" width="1" height="15" fill="#c0c0c0"/>
<rect x="16" y="627" width="1" height="13" fill="#c0c0c0"/>
<rect x="20" y="629" width="1" height="11" fill="#c0c0c0"/>
<rect x="24" y="631" width="1" height="9" fill="#c0c0c0"/>
<rect x="28" y="635" width="1" height="5" fill="#c0c0c0"/>
<rect x="32" y="638" width="1" height="2" fill="#c0c0c0"/>
<rect x="36" y="639" width="1" height="2" fill="#c0c0c0"/>
<rect x="40" y="639" width="1" height="4" fill="#c0c0c0"/>
<rect x="44" y="639" width="1" height="4" fill="#c0c0c0"/>
<rect x="48" y="639" width="1" height="3" fill="#c0c0c0"/>
<rect x="52" y="639" width="1" height="4" fill="#c0c0c0"/>
<rect x="56" y="639" width="1" height="3" fill="#c0c0c0"/>
<rect x="60" y="639" width="1" height="3" fill="#c0c0c0"/>
<rect x="64" y="639" width="1" height="4" fill="#c0c0c0"/>
<rect x="68" y="639" width="1" height="5" fill="#c0c0c0"/>
<rect x="72" y="639" width="1" height="5" fill="#c0c0c0"/>
<rect x="76" y="639" width="1" height="6" fill="#c0c0c0"/>
<rect x="80" y="639" width="1" height="6" fill="#c0c0c0"/>
<rect x="84" y="639" width="1" height="7" fill="#c0c0c0"/>
<rect x="88" y="639" width="1" height="9" fill="#c0c0c0"/>
<rect x="92" y="639" width="1" height="11" fill="#c0c0c0"/>
<rect x="96" y="639" width="1" height="12" fill="#c0c0c0"/>
<rect x="100" y="639" width="1" height="14" fill="#c0c0c0"/>
<rect x="104" y="639" width="1" height="15" fill="#c0c0c0"/>
<rect x="108" y="639" width="1" height="15" fill="#c0c0c0"/>
<rect x="112" y="639" width="1" height="15" fill="#c0c0c0"/>
<rect x="116" y="639" width="1" height="15" fill="#c0c0c0"/>
<rect x="120" y="639" width="1" height="17" fill="#c0c0c0"/>
<rect x="124" y="639" width="1" height="17" fill="#c0c0c0"/>
<rect x="128" y="639" width="1" height="17" fill="#c0c0c0"/>
<rect x="132" y="639" width="1" height="14" fill="#c0c0c0"/>
<rect x="136" y="639" width="1" height="11" fill="#c0c0c0"/>
<rect x="140" y="639" width="1" height="8" fill="#c0c0c0"/>
<rect x="144" y="639" width="1" height="6" fill="#c0c0c0"/>
<rect x="148" y="639" width="1" height="4" fill="#c0c0c0"/>
<rect x="152" y="639" width="1" height="3" fill="#c0c0c0"/>
<rect x="156" y="639" width="1" height="2" fill="#c0c0c0"/>
<rect x="160" y="639" width="1" height="2" fill="#c0c0c0"/>
<rect x="164" y="639" width="1" height="3" fill="#c0c0c0"/>
<rect x="168" y="639" width="1" height="6" fill="#c0c0c0"/>
<rect x="172" y="639" width="1" height="8" fill="#c0c0c0"/>
<rect x="176" y="639" width="1" height="9" fill="#c0c0c0"/>
<rect x="180" y="639" width="1" height="10" fill="#c0c0c0"/>
<rect x="184" y="639" width="1" height="11" fill="#c0c0c0"/>
<rect x="188" y="639" width="1" height="11" fill="#c0c0c0"/>
<rect x="192" y="639" width="1" height="12" fill="#c0c0c0"/>
<rect x="196" y="639" width="1" height="10" fill="#c0c0c0"/>
<rect x="200" y="639" width="1" height="9" fill="#c0c0c0"/>
<rect x="204" y="639" width="1" height="9" fill="#c0c0c0"/>
<rect x="208" y="639" width="1" height="9" fill="#c0c0c0"/>
<rect x="212" y="639" width="1" height="10" fill="#c0c0c0"/>
<rect x="216" y="639" width="1" height="11" fill="#c0c0c0"/>
<rect x="220" y="639" width="1" height="14" fill="#c0c0c0"/>
<rect x="224" y="639" width="1" height="17" fill="#c0c0c0"/>
<rect x="228" y="639" width="1" height="19" fill="#c0c0c0"/>
<rect x="232" y="639" width="1" height="20" fill="#c0c0c0"/>
<rect x="236" y="639" width="1" height="19" fill="#c0c0c0"/>
<rect x="240" y="639" width="1" height="18" fill="#c0c0c0"/>
<rect x="244" y="639" width="1" height="17" fill="#c0c0c0"/>
<rect x="248" y="639" width="1" height="16" fill="#c0c0c0"/>
<rect x="252" y="639" width="1" height="14" fill="#c0c0c0"/>
<rect x="256" y="639" width="1" height="13" fill="#c0c0c0"/>
<rect x="260" y="639" width="1" height="13" fill="#c0c0c0"/>
<rect x="264" y="639" width="1" height="11" fill="#c0c0c0"/>
<rect x="268" y="639" width="1" height="9" fill="#c0c0c0"/>
<rect x="272" y="639" width="1" height="8" fill="#c0c0c0"/>
<rect x="276" y="639" width="1" height="9" fill="#c0c0c0"/>
<rect x="280" y="639" width="1" height="8" fill="#c0c0c0"/>
<rect x="284" y="639" width="1" height="6" fill="#c0c0c0"/>
<rect x="288" y="639" width="1" height="6" fill="#c0c0c0"/>
<rect x="292" y="639" width="1" height="7" fill="#c0c0c0"/>
<rect x="296" y="639" width="1" height="8" fill="#c0c0c0"/>
<rect x="300" y="639" width="1" height="9" fill="#c0c0c0"/>
<rect x="304" y="639" width="1" height="9" fill="#c0c0c0"/>
<rect x="308" y="639" width="1" height="11" fill="#c0c0c0"/>
<rect x="312" y="639" width="1" height="12" fill="#c0c0c0"/>
<rect x="316" y="639" width="1" height="14" fill="#c0c0c0"/>
<rect x="320" y="639" width="1" height="14" fill="#c0c0c0"/>
<rect x="324" y="639" width="1" height="16" fill="#c0c0c0"/>
<rect x="328" y="639" width="1" height="16" fill="#c0c0c0"/>
<rect x="332" y="639" width="1" height="16" fill="#c0c0c0"/>
<rect x="336" y="639" width="1" height="14" fill="#c0c0c0"/>
<rect x="340" y="639" width="1" height="12" fill="#c0c0c0"/>
<rect x="344" y="639" width="1" height="11" fill="#c0c0c0"/>
<rect x="348" y="639" width="1" height="10" fill="#c0c0c0"/>
<rect x="352" y="639" width="1" height="10" fill="#c0c0c0"/>
<rect x="356" y="639" width="1" height="9" fill="#c0c0c0"/>
<rect x="360" y="639" width="1" height="7" fill="#c0c0c0"/>
<rect x="364" y="639" width="1" height="4" fill="#c0c0c0"/>
<rect x="368" y="639" width="1" height="2" fill="#c0c0c0"/>
<rect x="372" y="639" width="1" height="1" fill="#c0c0c0"/>
<rect x="376" y="638" width="1" height="2" fill="#c0c0c0"/>
<rect x="380" y="636" width="1" height="4" fill="#c0c0c0"/>
<rect x="384" y="633" width="1" height="7" fill="#c0c0c0"/>
<rect x="388" y="629" width="1" height="11" fill="#c0c0c0"/>
<rect x="392" y="626" width="1" height="14" fill="#c0c0c0"/>
<rect x="396" y="625" width="1" height="15" fill="#c0c0c0"/>
<rect x="400" y="624" width="1" height="16" fill="#c0c0c0"/>
<rect x="404" y="624" width="1" height="16" fill="#c0c0c0"/>
<rect x="408" y="625" width="1" height="15" fill="#c0c0c0"/>
<rect x="412" y="627" width="1" height="13" fill="#c0c0c0"/>
<rect x="416" y="628" width="1" height="12" fill="#c0c0c0"/>
<rect x="420" y="629" width="1" height="11" fill="#c0c0c0"/>
<rect x="424" y="629" width="1" height="11" fill="#c0c0c0"/>
<rect x="428" y="628" width="1" height="12" fill="#c0c0c0"/>
<rect x="432" y="627" width="1" height="13" fill="#c0c0c0"/>
<rect x="436" y="626" width="1" height="14" fill="#c0c0c0"/>
<rect x="440" y="626" width="1" height="14" fill="#c0c0c0"/>
<rect x="444" y="626" width="1" height="14" fill="#c0c0c0"/>
<rect x="448" y="628" width="1" height="12" fill="#c0c0c0"/>
<rect x="452" y="631" width="1" height="9" fill="#c0c0c0"/>
<rect x="456" y="634" width="1" height="6" fill="#c0c0c0"/>
<rect x="460" y="637" width="1" height="3" fill="#c0c0c0"/>
<rect x="464" y="639" width="1" height="1" fill="#c0c0c0"/>
<rect x="468" y="639" width="1" height="2" fill="#c0c0c0"/>
<rect x="472" y="639" width="1" height="4" fill="#c0c0c0"/>
<rect x="476" y="639" width="1" height="5" fill="#c0c0c0"/>
<rect x="480" y="639" width="1" height="7" fill="#c0c0c0"/>
<rect x="484" y="639" width="1" height="6" fill="#c0c0c0"/>
<rect x="488" y="639" width="1" height="6" fill="#c0c0c0"/>
<rect x="492" y="639" width="1" height="4" fill="#c0c0c0"/>
<rect x="496" y="639" width="1" height="3" fill="#c0c0c0"/>
<rect x="500" y="639" width="1" height="2" fill="#c0c0c0"/>
<rect x="504" y="639" width="1" height="2" fill="#c0c0c0"/>
<rect x="508" y="639" width="1" height="3" fill="#c0c0c0"/>
<rect x="512" y="639" width="1" height="3" fill="#c0c0c0"/>
<rect x="516" y="639" width="1" height="5" fill="#c0c0c0"/>
<rect x="520" y="639" width="1" height="6" fill="#c0c0c0"/>
<rect x="524" y="639" width="1" height="7" fill="#c0c0c0"/>
<rect x="528" y="639" width="1" height="7" fill="#c0c0c0"/>
<rect x="532" y="639" width="1" height="7" fill="#c0c0c0"/>
<rect x="536" y="639" width="1" height="7" fill="#c0c0c0"/>
<rect x="540" y="639" width="1" height="5" fill="#c0c0c0"/>
<rect x="544" y="639" width="1" height="3" fill="#c0c0c0"/>
<rect x="548" y="639" width="1" height="1" fill="#c0c0c0"/>
<rect x="552" y="638" width="1" height="2" fill="#c0c0c0"/>
<rect x="556" y="638" width="1" height="2" fill="#c0c0c0"/>
<rect x="560" y="639" width="1" height="1" fill="#c0c0c0"/>
<rect x="564" y="638" width="1" height="2" fill="#c0c0c0"/>
<rect x="568" y="637" width="1" height="3" fill="#c0c0c0"/>
<rect x="572" y="636" width="1" height="4" fill="#c0c0c0"/>
<rect x="576" y="635" width="1" height="5" fill="#c0c0c0"/>
<rect x="580" y="633" width="1" height="7" fill="#c0c0c0"/>
<rect x="584" y="632" width="1" height="8" fill="#c0c0c0"/>
<rect x="588" y="631" width="1" height="9" fill="#c0c0c0"/>
<rect x="592" y="630" width="1" height="10" fill="#c0c0c0"/>
<rect x="596" y="630" width="1" height="10" fill="#c0c0c0"/>
<rect x="600" y="630" width="1" height="10" fill="#c0c0c0"/>
<rect x="604" y="632" width="1" height="8" fill="#c0c0c0"/>
<rect x="608" y="633" width="1" height="7" fill="#c0c0c0"/>
<rect x="612" y="634" width="1" height="6" fill="#c0c0c0"/>
<rect x="616" y="635" width="1" height="5" fill="#c0c0c0"/>
<rect x="620" y="636" width="1" height="4" fill="#c0c0c0"/>
<rect x="624" y="636" width="1" height="4" fill="#c0c0c0"/>
<rect x="628" y="634" width="1" height="6" fill="#c0c0c0"/>
<rect x="632" y="632" width="1" height="8" fill="#c0c0c0"/>
<rect x="636" y="630" width="1" height="10" fill="#c0c0c0"/>
<rect x="640" y="627" width="1" height="13" fill="#c0c0c0"/>
<rect x="644" y="626" width="1" height="14" fill="#c0c0c0"/>
<rect x="648" y="625" width="1" height="15" fill="#c0c0c0"/>
<rect x="652" y="626" width="1" height="14" fill="#c0c0c0"/>
<rect x="656" y="627" width="1" height="13" fill="#c0c0c0"/>
<rect x="660" y="627" width="1" height="13" fill="#c0c0c0"/>
<rect x="664" y="629" width="1" height="11" fill="#c0c0c0"/>
<rect x="668" y="631" width="1" height="9" fill="#c0c0c0"/>
<rect x="672" y="633" width="1" height="7" fill="#c0c0c0"/>
<rect x="676" y="635" width="1" height="5" fill="#c0c0c0"/>
<rect x="680" y="636" width="1" height="4" fill="#c0c0c0"/>
<rect x="684" y="636" width="1" height="4" fill="#c0c0c0"/>
<rect x="688" y="637" width="1" height="3" fill="#c0c0c0"/>
<rect x="692" y="637" width="1" height="3" fill="#c0c0c0"/>
<rect x="696" y="637" width="1" height="3" fill="#c0c0c0"/>
<rect x="700" y="639" width="1" height="1" fill="#c0c0c0"/>
<rect x="704" y="639" width="1" height="1" fill="#c0c0c0"/>
<rect x="708" y="639" width="1" height="3" fill="#c0c0c0"/>
<rect x="712" y="639" width="1" height="3" fill="#c0c0c0"/>
<rect x="716" y="639" width="1" height="4" fill="#c0c0c0"/>
<rect x="720" y="639" width="1" height="6" fill="#c0c0c0"/>
<rect x="724" y="639" width="1" height="8" fill="#c0c0c0"/>
<rect x="728" y="639" width="1" height="10" fill="#c0c0c0"/>
<rect x="732" y="639" width="1" height="11" fill="#c0c0c0"/>
<rect x="736" y="639" width="1" height="13" fill="#c0c0c0"/>
<rect x="740" y="639" width="1" height="14" fill="#c0c0c0"/>
<rect x="744" y="639" width="1" height="13" fill="#c0c0c0"/>
<rect x="748" y="639" width="1" height="11" fill="#c0c0c0"/>
<rect x="752" y="639" width="1" height="9" fill="#c0c0c0"/>
<rect x="756" y="639" width="1" height="9" fill="#c0c0c0"/>
<rect x="760" y="639" width="1" height="9" fill="#c0c0c0"/>
<rect x="764" y="639" width="1" height="10" fill="#c0c0c0"/>
<rect x="768" y="639" width="1" height="11" fill="#c0c0c0"/>
<rect x="772" y="639" width="1" height="13" fill="#c0c0c0"/>
<rect x="776" y="639" width="1" height="14" fill="#c0c0c0"/>
<rect x="780" y="639" width="1" height="16" fill="#c0c0c0"/>
<rect x="784" y="639" width="1" height="18" fill="#c0c0c0"/>
<rect x="788" y="639" width="1" height="20" fill="#c0c0c0"/>
<rect x="792" y="639" width="1" height="22" fill="#c0c0c0"/>
<rect x="796" y="639" width="1" height="24" fill="#c0c0c0"/>
<rect x="800" y="639" width="1" height="26" fill="#c0c0c0"/>
<rect x="804" y="639" width="1" height="27" fill="#c0c0c0"/>
<rect x="808" y="639" width="1" height="28" fill="#c0c0c0"/>
<rect x="812" y="639" width="1" height="29" fill="#c0c0c0"/>
<rect x="816" y="639" width="1" height="29" fill="#c0c0c0"/>
<rect x="820" y="639" width="1" height="28" fill="#c0c0c0"/>
<rect x="824" y="639" width="1" height="26" fill="#c0c0c0"/>
<rect x="828" y="639" width="1" height="24" fill="#c0c0c0"/>
<rect x="832" y="639" width="1" height="22" fill="#c0c0c0"/>
<rect x="836" y="639" width="1" height="21" fill="#c0c0c0"/>
<rect x="840" y="639" width="1" height="15" fill="#c0c0c0"/>
<rect x="844" y="639" width="1" height="11" fill="#c0c0c0"/>
<rect x="848" y="639" width="1" height="6" fill="#c0c0c0"/>
<rect x="852" y="637" width="1" height="3" fill="#c0c0c0"/>
<rect x="856" y="629" width="1" height="11" fill="#c0c0c0"/>
<rect x="860" y="625" width="1" height="15" fill="#c0c0c0"/>
<rect x="864" y="620" width="1" height="20" fill="#c0c0c0"/>
<rect x="868" y="613" width="1" height="27" fill="#c0c0c0"/>
<rect x="872" y="607" width="1" height="33" fill="#c0c0c0"/>
<rect x="876" y="599" width="1" height="41" fill="#c0c0c0"/>
<rect x="880" y="596" width="1" height="44" fill="#c0c0c0"/>
<rect x="884" y="597" width="1" height="43" fill="#c0c0c0"/>
<rect x="888" y="604" width="1" height="36" fill="#c0c0c0"/>
<rect x="892" y="610" width="1" height="30" fill="#c0c0c0"/>
<rect x="896" y="615" width="1" height="25" fill="#c0c0c0"/>
<rect x="900" y="618" width="1" height="22" fill="#c0c0c0"/>
<rect x="904" y="625" width="1" height="15" fill="#c0c0c0"/>
<rect x="908" y="636" width="1" height="4" fill="#c0c0c0"/>
<rect x="912" y="639" width="1" height="10" fill="#c0c0c0"/>
<rect x="916" y="639" width="1" height="20" fill="#c0c0c0"/>
<rect x="920" y="639" width="1" height="29" fill="#c0c0c0"/>
<rect x="924" y="639" width="1" height="32" fill="#c0c0c0"/>
<rect x="928" y="639" width="1" height="33" fill="#c0c0c0"/>
<rect x="932" y="639" width="1" height="32" fill="#c0c0c0"/>
<rect x="936" y="639" width="1" height="25" fill="#c0c0c0"/>
<rect x="940" y="639" width="1" height="18" fill="#c0c0c0"/>
<rect x="944" y="639" width="1" height="10" fill="#c0c0c0"/>
<rect x="948" y="639" width="1" height="7" fill="#c0c0c0"/>
<rect x="952" y="639" width="1" height="5" fill="#c0c0c0"/>
<rect x="956" y="639" width="1" height="6" fill="#c0c0c0"/>
<rect x="960" y="639" width="1" height="9" fill="#c0c0c0"/>
<rect x="964" y="639" width="1" height="13" fill="#c0c0c0"/>
<rect x="968" y="639" width="1" height="16" fill="#c0c0c0"/>
<rect x="972" y="639" width="1" height="18" fill="#c0c0c0"/>
<rect x="976" y="639" width="1" height="17" fill="#c0c0c0"/>
<rect x="980" y="639" width="1" height="17" fill="#c0c0c0"/>
<rect x="984" y="639" width="1" height="14" fill="#c0c0c0"/>
<rect x="988" y="639" width="1" height="11" fill="#c0c0c0"/>
<rect x="992" y="639" width="1" height="9" fill="#c0c0c0"/>
<rect x="996" y="639" width="1" height="9" fill="#c0c0c0"/>
<rect x="1000" y="639" width="1" height="6" fill="#c0c0c0"/>
<rect x="1004" y="639" width="1" height="6" fill="#c0c0c0"/>
<rect x="1008" y="639" width="1" height="8" fill="#c0c0c0"/>
<rect x="1012" y="639" width="1" height="8" fill="#c0c0c0"/>
<rect x="1016" y="639" width="1" height="9" fill="#c0c0c0"/>
<rect x="1020" y="639" width="1" height="9" fill="#c0c0c0"/>
<rect x="1024" y="639" width="1" height="9" fill="#c0c0c0"/>
<rect x="1028" y="639" width="1" height="11" fill="#c0c0c0"/>
<rect x="1032" y="639" width="1" height="12" fill="#c0c0c0"/>
<rect x="1036" y="639" width="1" height="13" fill="#c0c0c0"/>
<rect x="1040" y="639" width="1" height="14" fill="#c0c0c0"/>
<rect x="1044" y="639" width="1" height="14" fill="#c0c0c0"/>
<rect x="1048" y="639" width="1" height="13" fill="#c0c0c0"/>
<rect x="1052" y="639" width="1" height="12" fill="#c0c0c0"/>
<rect x="1056" y="639" width="1" height="8" fill="#c0c0c0"/>
<rect x="1060" y="639" width="1" height="3" fill="#c0c0c0"/>
<rect x="1064" y="638" width="1" height="2" fill="#c0c0c0"/>
<rect x="1068" y="638" width="1" height="2" fill="#c0c0c0"/>
<rect x="1072" y="639" width="1" height="1" fill="#c0c0c0"/>
<rect x="1076" y="639" width="1" height="4" fill="#c0c0c0"/>
<rect x="1080" y="639" width="1" height="6" fill="#c0c0c0"/>
<rect x="1084" y="639" width="1" height="6" fill="#c0c0c0"/>
<rect x="1088" y="639" width="1" height="6" fill="#c0c0c0"/>
<rect x="1092" y="639" width="1" height="7" fill="#c0c0c0"/>
<rect x="1096" y="639" width="1" height="6" fill="#c0c0c0"/>
<rect x="1100" y="639" width="1" height="6" fill="#c0c0c0"/>
<rect x="1104" y="639" width="1" height="8" fill="#c0c0c0"/>
<rect x="1108" y="639" width="1" height="8" fill="#c0c0c0"/>
<rect x="1112" y="639" width="1" height="8" fill="#c0c0c0"/>
<rect x="1116" y="639" width="1" height="6" fill="#c0c0c0"/>
<rect x="1120" y="639" width="1" height="2" fill="#c0c0c0"/>
<rect x="1124" y="637" width="1" height="3" fill="#c0c0c0"/>
<rect x="1128" y="635" width="1" height="5" fill="#c0c0c0"/>
<rect x="1132" y="635" width="1" height="5" fill="#c0c0c0"/>
<rect x="1136" y="635" width="1" height="5" fill="#c0c0c0"/>
<rect x="1140" y="635" width="1" height="5" fill="#c0c0c0"/>
<rect x="1144" y="633" width="1" height="7" fill="#c0c0c0"/>
<rect x="1148" y="631" width="1" height="9" fill="#c0c0c0"/>
<rect x="1152" y="627" width="1" height="13" fill="#c0c0c0"/>
<rect x="1156" y="622" width="1" height="18" fill="#c0c0c0"/>
<rect x="1160" y="619" width="1" height="21" fill="#c0c0c0"/>
<rect x="1164" y="616" width="1" height="24" fill="#c0c0c0"/>
<rect x="1168" y="612" width="1" height="28" fill="#c0c0c0"/>
<rect x="1172" y="607" width="1" height="33" fill="#c0c0c0"/>
<rect x="1176" y="601" width="1" height="39" fill="#c0c0c0"/>
<rect x="1180" y="596" width="1" height="44" fill="#c0c0c0"/>
<path d="M4,628.5h2M6,627.5h1M10,626.5h1M11,625.5h2M16,625.5h3M22,624.5h3M28,625.5h2M30,626.5h1M34,628.5h2M36,629.5h1M40,632.5h2M42,633.5h1M46,635.5h2M48,636.5h1M52,638.5h3M58,639.5h1M59,640.5h2M64,641.5h3M70,642.5h3M76,643.5h3M82,643.5h3M88,644.5h3M94,645.5h1M95,646.5h2M100,647.5h3M106,648.5h1M107,649.5h2M112,650.5h3M118,651.5h1M119,652.5h2M124,653.5h3M130,654.5h3M136,654.5h3M142,653.5h1M143,652.5h2M148,651.5h2M150,650.5h1M154,649.5h1M155,648.5h2M160,646.5h2M162,645.5h1M166,644.5h1M167,643.5h2M172,643.5h3M178,643.5h1M179,644.5h2M184,644.5h3M190,646.5h2M192,647.5h1M196,647.5h3M202,648.5h3M208,649.5h3M214,649.5h3M220,649.5h3M226,650.5h3M232,652.5h3M238,653.5h1M239,654.5h2M244,655.5h3M250,655.5h1M251,656.5h2M256,655.5h3M262,655.5h1M263,654.5h2M268,653.5h3M274,652.5h1M275,651.5h2M280,650.5h3M286,649.5h1M287,648.5h2M292,647.5h3M298,646.5h3M304,646.5h3M310,646.5h1M311,647.5h2M316,648.5h3M322,648.5h1M323,649.5h2M328,651.5h3M334,651.5h1M335,652.5h2M340,652.5h3M346,652.5h3M352,652.5h3M358,651.5h1M359,650.5h2M364,649.5h2M366,648.5h1M370,647.5h1M371,646.5h2M376,645.5h2M378,644.5h1M382,642.5h2M384,641.5h1M388,639.5h2M390,638.5h1M394,636.5h1M395,635.5h1M396,634.5h1M400,632.5h3M406,630.5h2M408,629.5h1M412,628.5h3M418,627.5h1M419,626.5h2M424,626.5h3M430,626.5h1M431,627.5h2M436,627.5h3M442,627.5h3M448,627.5h3M454,628.5h3M460,629.5h3M466,631.5h2M468,632.5h1M472,634.5h2M474,635.5h1M478,637.5h2M480,638.5h1M484,640.5h3M490,641.5h1M491,642.5h2M496,643.5h3M502,643.5h3M508,643.5h3M514,642.5h3M520,642.5h3M526,642.5h1M527,643.5h2M532,643.5h3M538,643.5h1M539,644.5h2M544,644.5h3M550,644.5h1M551,643.5h2M556,642.5h3M562,642.5h1M563,641.5h2M568,640.5h3M574,639.5h1M575,638.5h2M580,637.5h3M586,636.5h3M592,635.5h3M598,634.5h1M599,633.5h2M604,632.5h3M610,632.5h3M616,632.5h3M622,632.5h1M623,633.5h2M628,633.5h3M634,633.5h3M640,633.5h3M646,632.5h1M647,631.5h2M652,630.5h3M658,629.5h1M659,628.5h2M664,628.5h3M670,628.5h3M676,629.5h3M682,630.5h1M683,631.5h2M688,632.5h2M690,633.5h1M694,634.5h1M695,635.5h2M700,636.5h3M706,637.5h1M707,638.5h2M712,638.5h3M718,639.5h1M719,640.5h2M724,641.5h3M730,643.5h2M732,644.5h1M736,645.5h3M742,647.5h2M744,648.5h1M748,648.5h3M754,649.5h3M760,649.5h3M766,649.5h3M772,649.5h3M778,649.5h1M779,650.5h2M784,651.5h3M790,652.5h1M791,653.5h2M796,655.5h2M798,656.5h1M802,657.5h1M803,658.5h2M808,660.5h2M810,661.5h1M814,662.5h1M815,663.5h2M820,664.5h3M826,665.5h3M832,665.5h3M838,664.5h2M840,663.5h1M844,661.5h2M846,660.5h1M850,657.5h1M851,656.5h1M852,655.5h1M856,651.5h1M857,650.5h1M858,649.5h1M862.5,644v2M863,643.5h1M866,639.5h1M867,638.5h1M868,637.5h1M871.5,632v2M872,631.5h1M875.5,626v2M876,625.5h1M879.5,620v2M880,619.5h1M883,615.5h1M884,614.5h1M885,613.5h1M889,610.5h1M890,609.5h2M895,607.5h3M901,607.5h2M903,608.5h1M907,610.5h1M908,611.5h1M909,612.5h1M911,616.5h1M912,617.5h1M913,618.5h1M915,622.5h1M916.5,623v2M918,628.5h1M919.5,629v2M921,634.5h1M922.5,635v2M925.5,640v2M926,642.5h1M928,646.5h1M929.5,647v2M932,652.5h1M933,653.5h1M934,654.5h1M937,658.5h2M939,659.5h1M943,661.5h1M944,662.5h2M949,661.5h2M951,660.5h1M955,658.5h1M956,657.5h2M961,654.5h2M963,653.5h1M967,651.5h3M973,650.5h3M979,650.5h3M985,651.5h2M987,652.5h1M991,652.5h3M997,652.5h3M1003,651.5h1M1004,650.5h2M1009,649.5h2M1011,648.5h1M1015,647.5h3M1021,647.5h3M1027,647.5h3M1033,647.5h2M1035,648.5h1M1039,649.5h3M1045,650.5h3M1051,650.5h3M1057,650.5h3M1063,649.5h3M1069,647.5h2M1071,646.5h1M1075,645.5h3M1081,644.5h2M1083,643.5h1M1087,642.5h3M1093,642.5h3M1099,643.5h3M1105,644.5h2M1107,645.5h1M1111,645.5h3M1117,645.5h3M1123,644.5h3M1129,643.5h2M1131,642.5h1M1135,641.5h3M1141,639.5h2M1143,638.5h1M1147,637.5h1M1148,636.5h2M1153,634.5h1M1154,633.5h2M1159,631.5h1M1160,630.5h2M1165,627.5h2M1167,626.5h1M1171,623.5h1M1172,622.5h1M1173,621.5h1M1177,618.5h1M1178,617.5h1M1179,616.5h1" fill="none" stroke="#ff0000" stroke-width="1"/>
</svg>
<svg style="position:absolute;left:7px;top:30px" width="7" height="4" shape-rendering="crispEdges"><rect x="0" y="0" width="7" height="1"/><rect x="1" y="1" width="5" height="1"/><rect x="2" y="2" width="3" height="1"/><rect x="3" y="3" width="1" height="1"/></svg>
<div class="t" style="left:19.0px;top:27px;font-size:9.5px;color:#000;letter-spacing:0.405px;">EURUSD,Daily</div>
<div class="t" style="left:89.0px;top:27px;font-size:9.5px;color:#000;letter-spacing:-0.329px;">1.13211</div>
<div class="t" style="left:125.0px;top:27px;font-size:9.5px;color:#000;letter-spacing:-0.33px;">1.13610</div>
<div class="t" style="left:161.0px;top:27px;font-size:9.5px;color:#000;letter-spacing:-0.33px;">1.13171</div>
<div class="t" style="left:196.0px;top:27px;font-size:9.5px;color:#000;letter-spacing:-0.214px;">1.13373</div>
<div class="t" style="left:7.0px;top:506px;font-size:9.5px;color:#000;letter-spacing:0.239px;">RSI(14)</div>
<div class="t" style="left:42.0px;top:506px;font-size:9.5px;color:#000;letter-spacing:-0.219px;">79.7883</div>
<div class="t" style="left:8.0px;top:595px;font-size:9.5px;color:#000;letter-spacing:0.1px;">MACD(12,26,9)</div>
<div class="t" style="left:78.0px;top:595px;font-size:9.5px;color:#000;letter-spacing:-0.53px;">0.010420</div>
<div class="t" style="left:118.0px;top:595px;font-size:9.5px;color:#000;letter-spacing:-0.43px;">0.005943</div>
<div class="t" style="left:1494px;top:30px;font-size:9.5px;color:#000;letter-spacing:-0.33px;">1.15190</div>
<div class="t" style="left:1494px;top:63px;font-size:9.5px;color:#000;letter-spacing:-0.33px;">1.14545</div>
<div class="t" style="left:1494px;top:96px;font-size:9.5px;color:#000;letter-spacing:-0.33px;">1.13915</div>
<div class="t" style="left:1494px;top:129px;font-size:9.5px;color:#000;letter-spacing:-0.33px;">1.13270</div>
<div class="t" style="left:1494px;top:162px;font-size:9.5px;color:#000;letter-spacing:-0.33px;">1.12625</div>
<div class="t" style="left:1494px;top:228px;font-size:9.5px;color:#000;letter-spacing:-0.33px;">1.11335</div>
<div class="t" style="left:1494px;top:261px;font-size:9.5px;color:#000;letter-spacing:-0.33px;">1.10705</div>
<div class="t" style="left:1494px;top:327px;font-size:9.5px;color:#000;letter-spacing:-0.33px;">1.09415</div>
<div class="t" style="left:1494px;top:393px;font-size:9.5px;color:#000;letter-spacing:-0.33px;">1.08125</div>
<div class="t" style="left:1494px;top:426px;font-size:9.5px;color:#000;letter-spacing:-0.33px;">1.07495</div>
<div class="t" style="left:1494px;top:459px;font-size:9.5px;color:#000;letter-spacing:-0.33px;">1.06850</div>
<div class="t" style="left:1494px;top:492px;font-size:9.5px;color:#000;letter-spacing:-0.33px;">1.06205</div>
<div class="t" style="left:1492px;top:504px;font-size:9.5px;color:#000;letter-spacing:-0.33px;">100</div>
<div class="t" style="left:1492px;top:524px;font-size:9.5px;color:#000;letter-spacing:-0.33px;">70</div>
<div class="t" style="left:1492px;top:558px;font-size:9.5px;color:#000;letter-spacing:-0.33px;">30</div>
<div class="t" style="left:1492px;top:577px;font-size:9.5px;color:#000;letter-spacing:-0.33px;">0</div>
<div class="t" style="left:1492px;top:593px;font-size:9.5px;color:#000;letter-spacing:-0.33px;">0.011337</div>
<div class="t" style="left:1492px;top:635px;font-size:9.5px;color:#000;letter-spacing:-0.33px;">0.00</div>
<div class="t" style="left:1492px;top:665px;font-size:9.5px;color:#000;letter-spacing:-0.33px;">-0.008848</div>
<div style="position:absolute;left:1490px;top:123px;width:41px;height:11px;background:#000"></div>
<div class="t" style="left:1494px;top:124px;font-size:9.5px;color:#fff;letter-spacing:-0.33px;">1.13373</div>
<div style="position:absolute;left:1490px;top:139px;width:41px;height:11px;background:#ff0000"></div>
<div class="t" style="left:1494px;top:140px;font-size:9.5px;color:#fff;letter-spacing:-0.33px;">1.13034</div>
<div style="position:absolute;left:1490px;top:192px;width:41px;height:11px;background:#ff0000"></div>
<div class="t" style="left:1494px;top:193px;font-size:9.5px;color:#fff;letter-spacing:-0.33px;">1.12004</div>
<div style="position:absolute;left:1490px;top:243px;width:41px;height:11px;background:#00ff00"></div>
<div class="t" style="left:1494px;top:244px;font-size:9.5px;color:#fff;letter-spacing:-0.33px;">1.11009</div>
<div style="position:absolute;left:1490px;top:295px;width:41px;height:11px;background:#0000ff"></div>
<div class="t" style="left:1494px;top:296px;font-size:9.5px;color:#fff;letter-spacing:-0.33px;">1.10008</div>
<div style="position:absolute;left:1490px;top:357px;width:41px;height:11px;background:#0000ff"></div>
<div class="t" style="left:1494px;top:358px;font-size:9.5px;color:#fff;letter-spacing:-0.33px;">1.08800</div>
<div style="position:absolute;left:1490px;top:413px;width:41px;height:11px;background:#0000ff"></div>
<div class="t" style="left:1494px;top:414px;font-size:9.5px;color:#fff;letter-spacing:-0.33px;">1.07697</div>
<div style="position:absolute;left:1490px;top:485px;width:41px;height:11px;background:#0000ff"></div>
<div class="t" style="left:1494px;top:486px;font-size:9.5px;color:#fff;letter-spacing:-0.33px;">1.06306</div>
<div style="position:absolute;left:3px;top:246px;width:2px;height:2px;border:2px solid #00ff00;background:#fff"></div>
<div style="position:absolute;left:1482px;top:246px;width:2px;height:2px;border:2px solid #00ff00;background:#fff"></div>
<div style="position:absolute;left:3px;top:298px;width:2px;height:2px;border:2px solid #0000ff;background:#fff"></div>
<div style="position:absolute;left:1482px;top:298px;width:2px;height:2px;border:2px solid #0000ff;background:#fff"></div>
<div style="position:absolute;left:3px;top:360px;width:2px;height:2px;border:2px solid #0000ff;background:#fff"></div>
<div style="position:absolute;left:1482px;top:360px;width:2px;height:2px;border:2px solid #0000ff;background:#fff"></div>
<div class="t" style="left:3.0px;top:681px;font-size:9.5px;letter-spacing:-0.15px">28 Jun 2019</div>
<div class="t" style="left:67.0px;top:681px;font-size:9.5px;letter-spacing:-0.152px">17 Jul 2019</div>
<div class="t" style="left:131.0px;top:681px;font-size:9.5px;letter-spacing:-0.08px">5 Aug 2019</div>
<div class="t" style="left:195.0px;top:681px;font-size:9.5px;letter-spacing:-0.22px">23 Aug 2019</div>
<div class="t" style="left:259.0px;top:681px;font-size:9.5px;letter-spacing:-0.218px">11 Sep 2019</div>
<div class="t" style="left:322.0px;top:681px;font-size:9.5px;letter-spacing:-0.149px">30 Sep 2019</div>
<div class="t" style="left:387.0px;top:681px;font-size:9.5px;letter-spacing:-0.22px">18 Oct 2019</div>
<div class="t" style="left:451.0px;top:681px;font-size:9.5px;letter-spacing:-0.085px">6 Nov 2019</div>
<div class="t" style="left:515.0px;top:681px;font-size:9.5px;letter-spacing:-0.087px">25 Nov 2019</div>
<div class="t" style="left:579.0px;top:681px;font-size:9.5px;letter-spacing:-0.228px">13 Dec 2019</div>
<div class="t" style="left:643.0px;top:681px;font-size:9.5px;letter-spacing:-0.162px">1 Jan 2020</div>
<div class="t" style="left:707.0px;top:681px;font-size:9.5px;letter-spacing:-0.149px">20 Jan 2020</div>
<div class="t" style="left:770.0px;top:681px;font-size:9.5px;letter-spacing:-0.008px">7 Feb 2020</div>
<div class="t" style="left:835.0px;top:681px;font-size:9.5px;letter-spacing:-0.149px">26 Feb 2020</div>
<div class="t" style="left:899.0px;top:681px;font-size:9.5px;letter-spacing:-0.218px">16 Mar 2020</div>
<div class="t" style="left:962.0px;top:681px;font-size:9.5px;letter-spacing:-0.08px">3 Apr 2020</div>
<div class="t" style="left:1027.0px;top:681px;font-size:9.5px;letter-spacing:-0.22px">22 Apr 2020</div>
<div class="t" style="left:1090.0px;top:681px;font-size:9.5px;letter-spacing:-0.01px">11 May 2020</div>
<div class="t" style="left:1155.0px;top:681px;font-size:9.5px;letter-spacing:-0.08px">29 May 2020</div>
<div style="position:absolute;left:0;top:697px;width:1531px;height:1px;background:#e0e0e0"></div>
<div style="position:absolute;left:0;top:698px;width:1531px;height:1px;background:#fff"></div>
<div style="position:absolute;left:0;top:699px;width:1531px;height:1px;background:#000"></div>
<div style="position:absolute;left:0;top:700px;width:1531px;height:1px;background:#fff"></div>
<div style="position:absolute;left:0;top:701px;width:1531px;height:18px;background:#f0f0f0"></div>
<div style="position:absolute;left:0;top:700px;width:1px;height:19px;background:#808080"></div>
<div style="position:absolute;left:1px;top:700px;width:4px;height:19px;background:#f8f8f8"></div>
<div style="position:absolute;left:5px;top:699px;width:102px;height:18px;background:#fff;border:1px solid #000;border-top:none;box-sizing:content-box"></div>
<div style="position:absolute;left:6px;top:718px;width:103px;height:1px;background:#b0b0b0"></div>
<div style="position:absolute;left:109px;top:700px;width:1px;height:18px;background:#fbfbfb"></div>
<div class="tab" style="left:16.0px;letter-spacing:0.25px;color:#000;">EURUSD,Daily</div>
<div class="tab" style="left:119.0px;letter-spacing:0.059px;">USDCHF,Daily</div>
<div class="tab" style="left:220.0px;letter-spacing:0.186px;">AUDUSD,Daily</div>
<div class="tab" style="left:324.0px;letter-spacing:0.19px;">USDCAD,Daily</div>
<div class="tab" style="left:427.0px;letter-spacing:0.25px;">USDCNH,Daily</div>
<div class="tab" style="left:532.0px;letter-spacing:0.186px;">EURUSD,Daily</div>
<div class="tab" style="left:636.0px;letter-spacing:0.186px;">GBPUSD,Daily</div>
<div class="tab" style="left:739.0px;letter-spacing:0.513px;">XAUUSD,H4</div>
<div class="tab" style="left:832.0px;letter-spacing:0.25px;">HK50,H1</div>
<div class="tab" style="left:904.0px;letter-spacing:0.25px;">UK100,H1</div>
<div class="tab" style="left:983.0px;letter-spacing:0.35px;">UK100,H1</div>
<div class="tab" style="left:1064.0px;letter-spacing:0.05px;">GER30,H1</div>
<div class="tab" style="left:1143.0px;letter-spacing:0.05px;">FRA40,H1</div>
<div class="tab" style="left:1219.0px;letter-spacing:0.102px;">USOil,Daily</div>
<div class="tab" style="left:1303.0px;letter-spacing:0.505px;">USDJPY,H1</div>
<div class="tab" style="left:1387.0px;letter-spacing:0.363px;">DJ30,H1</div>
<div style="position:absolute;left:209px;top:702px;width:1px;height:14px;background:#808080"></div>
<div style="position:absolute;left:313px;top:702px;width:1px;height:14px;background:#808080"></div>
<div style="position:absolute;left:417px;top:702px;width:1px;height:14px;background:#808080"></div>
<div style="position:absolute;left:521px;top:702px;width:1px;height:14px;background:#808080"></div>
<div style="position:absolute;left:625px;top:702px;width:1px;height:14px;background:#808080"></div>
<div style="position:absolute;left:729px;top:702px;width:1px;height:14px;background:#808080"></div>
<div style="position:absolute;left:821px;top:702px;width:1px;height:14px;background:#808080"></div>
<div style="position:absolute;left:893px;top:702px;width:1px;height:14px;background:#808080"></div>
<div style="position:absolute;left:973px;top:702px;width:1px;height:14px;background:#808080"></div>
<div style="position:absolute;left:1053px;top:702px;width:1px;height:14px;background:#808080"></div>
<div style="position:absolute;left:1133px;top:702px;width:1px;height:14px;background:#808080"></div>
<div style="position:absolute;left:1209px;top:702px;width:1px;height:14px;background:#808080"></div>
<div style="position:absolute;left:1293px;top:702px;width:1px;height:14px;background:#808080"></div>
<div style="position:absolute;left:1377px;top:702px;width:1px;height:14px;background:#808080"></div>
<div style="position:absolute;left:1445px;top:702px;width:1px;height:14px;background:#808080"></div>
<svg style="position:absolute;left:1500px;top:704px" width="31" height="10" shape-rendering="crispEdges"><polygon points="8,1 8,8 4,4.5" fill="#909090"/><polygon points="22.5,1 22.5,8 26.5,4.5" fill="#909090"/></svg>
</body></html>
